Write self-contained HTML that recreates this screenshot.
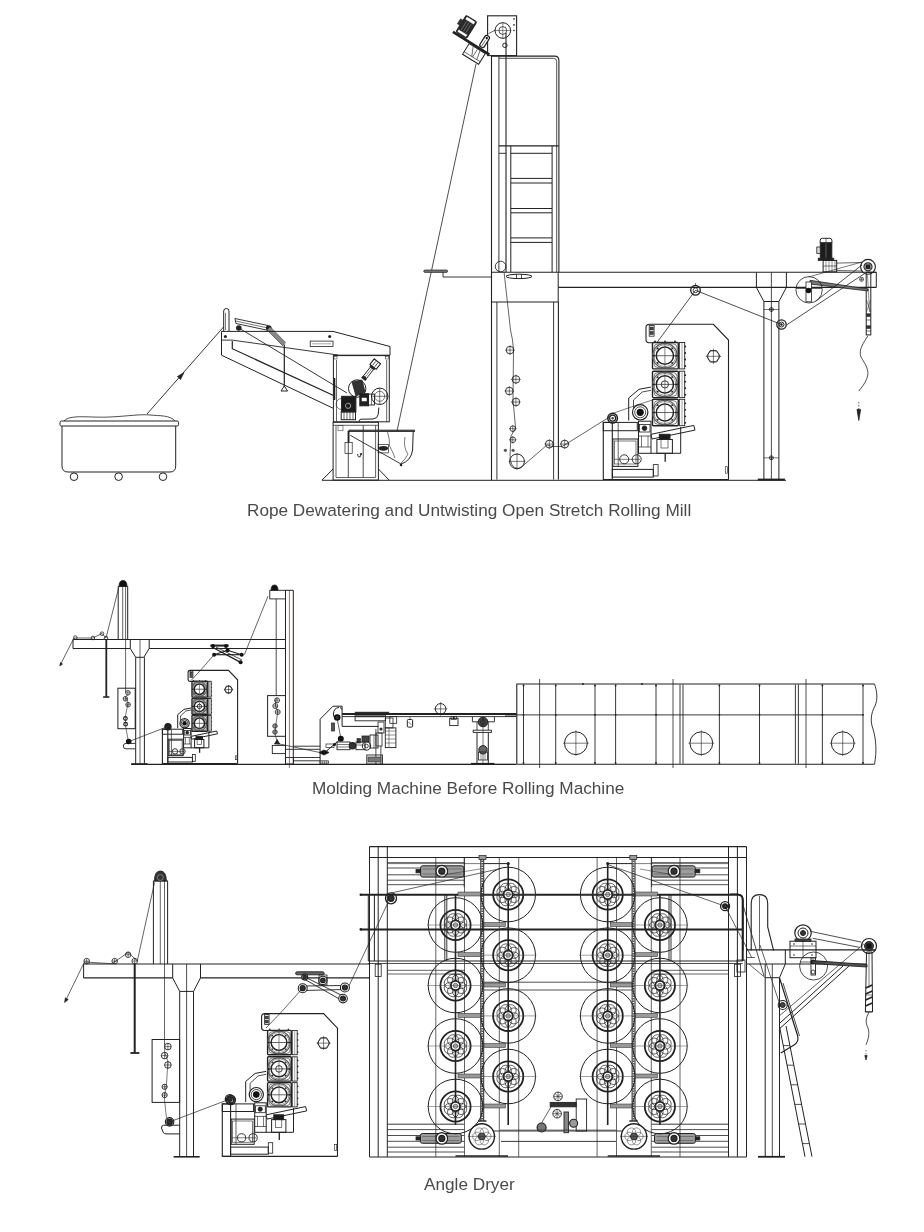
<!DOCTYPE html>
<html><head><meta charset="utf-8"><style>html,body{margin:0;padding:0;background:#fff;}svg{display:block}</style></head>
<body><svg width="924" height="1232" viewBox="0 0 924 1232" shape-rendering="auto">
<g style="will-change:transform"><text x="247" y="515.5" font-family="Liberation Sans, sans-serif" font-size="17.2" fill="#4a4a4a">Rope Dewatering and Untwisting Open Stretch Rolling Mill</text></g>
<g style="will-change:transform"><text x="311.9" y="794.4" font-family="Liberation Sans, sans-serif" font-size="17.2" fill="#4a4a4a">Molding Machine Before Rolling Machine</text></g>
<g style="will-change:transform"><text x="424" y="1190" font-family="Liberation Sans, sans-serif" font-size="17.2" fill="#4a4a4a">Angle Dryer</text></g>
<rect x="60.0" y="421.0" width="118.6" height="5.0" rx="1.5" fill="none" stroke="#222" stroke-width="1"/>
<path d="M 62.0,426.0 L 62.0,466.0 Q 62.0,472.0 68.0,472.0 L 170.0,472.0 Q 175.7,472.0 175.7,466.0 L 175.7,426.0" fill="none" stroke="#222" stroke-width="1"/>
<circle cx="74.0" cy="476.7" r="3.8" fill="none" stroke="#222" stroke-width="1"/>
<circle cx="118.6" cy="476.7" r="3.8" fill="none" stroke="#222" stroke-width="1"/>
<circle cx="163.0" cy="476.7" r="3.8" fill="none" stroke="#222" stroke-width="1"/>
<path d="M 64.0,421.0 C 70.0,414.0 90.0,418.0 110.0,417.0 C 130.0,416.0 140.0,414.0 150.0,415.0 C 160.0,416.0 170.0,415.0 175.0,421.0" fill="none" stroke="#222" stroke-width="0.8"/>
<line x1="147.0" y1="414.0" x2="223.5" y2="327.0" stroke="#222" stroke-width="0.9" />
<polygon points="184.0,372.5 180.6,379.6 177.3,376.6" fill="#222" stroke="#222" stroke-width="0.6"/>
<path d="M 223.7,331.0 L 223.7,311.0 Q 223.7,308.5 226.3,308.5 Q 229.0,308.5 229.0,311.0 L 229.0,331.0" fill="none" stroke="#222" stroke-width="1"/>
<line x1="225.5" y1="313.0" x2="225.5" y2="330.0" stroke="#222" stroke-width="0.6" />
<polygon points="234.9,318.5 268.0,325.5 268.6,330.5 236.0,323.5" fill="none" stroke="#222" stroke-width="0.9"/>
<line x1="235.5" y1="321.0" x2="268.0" y2="328.0" stroke="#222" stroke-width="0.6" />
<circle cx="238.8" cy="328.0" r="2.8" fill="#222"/>
<circle cx="268.7" cy="328.0" r="2.8" fill="#222"/>
<line x1="268.7" y1="328.5" x2="284.3" y2="344.4" stroke="#888" stroke-width="4" />
<line x1="267.5" y1="330.5" x2="283.0" y2="346.0" stroke="#222" stroke-width="0.6" />
<line x1="270.5" y1="327.0" x2="285.5" y2="342.5" stroke="#222" stroke-width="0.6" />
<line x1="284.3" y1="344.4" x2="284.3" y2="386.6" stroke="#222" stroke-width="1.2" />
<polygon points="281.0,391.0 284.3,386.0 287.6,391.0" fill="none" stroke="#222" stroke-width="1"/>
<polyline points="221.5,331.4 333.0,331.4 390.0,346.5 390.0,355.2 333.0,355.2" fill="none" stroke="#222" stroke-width="1"/>
<line x1="221.5" y1="331.4" x2="221.5" y2="355.2" stroke="#222" stroke-width="1" />
<line x1="221.5" y1="340.1" x2="232.3" y2="340.1" stroke="#222" stroke-width="0.9" />
<line x1="221.5" y1="355.2" x2="333.0" y2="408.2" stroke="#222" stroke-width="1" />
<polyline points="232.3,341.0 232.3,348.7 333.0,395.2" fill="none" stroke="#222" stroke-width="1.2"/>
<line x1="232.3" y1="340.1" x2="338.0" y2="355.0" stroke="#222" stroke-width="0.9" />
<circle cx="225.4" cy="336.4" r="1.5" fill="#222"/>
<circle cx="329.7" cy="336.4" r="1.5" fill="#222"/>
<rect x="310.2" y="341.1" width="22.8" height="5.4" rx="0" fill="none" stroke="#222" stroke-width="0.8"/>
<line x1="312.0" y1="343.8" x2="331.0" y2="343.8" stroke="#222" stroke-width="0.4" />
<line x1="238.8" y1="328.0" x2="347.0" y2="393.0" stroke="#222" stroke-width="0.9" />
<rect x="333.4" y="355.6" width="55.9" height="66.2" rx="0" fill="none" stroke="#222" stroke-width="1"/>
<line x1="336.5" y1="360.0" x2="336.5" y2="421.8" stroke="#222" stroke-width="0.7" />
<line x1="386.7" y1="360.0" x2="386.7" y2="421.8" stroke="#222" stroke-width="0.7" />
<rect x="334.0" y="356.5" width="3.0" height="2.5" rx="0" fill="none" stroke="#222" stroke-width="0.5"/>
<rect x="385.5" y="356.5" width="3.0" height="2.5" rx="0" fill="none" stroke="#222" stroke-width="0.5"/>
<line x1="334.5" y1="378.0" x2="334.5" y2="400.0" stroke="#222" stroke-width="1.6" />
<circle cx="357.2" cy="388.5" r="8.7" fill="none" stroke="#222" stroke-width="1"/>
<path d="M 352.0,382.0 L 362.0,380.0 L 365.0,392.0 L 356.0,396.0 Z" fill="#333" stroke="#222" stroke-width="0.8"/>
<rect x="341.6" y="396.3" width="14.3" height="15.6" rx="0" fill="#1a1a1a" stroke="#222" stroke-width="1"/>
<circle cx="348.1" cy="405.8" r="2.6" fill="none" stroke="#ccc" stroke-width="0.8"/>
<circle cx="341.6" cy="404.0" r="5.5" fill="none" stroke="#222" stroke-width="0.6"/>
<rect x="341.2" y="411.9" width="14.3" height="7.8" rx="0" fill="none" stroke="#222" stroke-width="1"/>
<line x1="344.0" y1="411.9" x2="344.0" y2="419.7" stroke="#222" stroke-width="0.7" />
<line x1="347.0" y1="411.9" x2="347.0" y2="419.7" stroke="#222" stroke-width="0.7" />
<line x1="350.0" y1="411.9" x2="350.0" y2="419.7" stroke="#222" stroke-width="0.7" />
<line x1="353.0" y1="411.9" x2="353.0" y2="419.7" stroke="#222" stroke-width="0.7" />
<rect x="359.8" y="393.7" width="8.7" height="12.1" rx="0" fill="#222" stroke="#222" stroke-width="1"/>
<rect x="362.0" y="398.0" width="4.5" height="3.0" rx="0" fill="#fff" stroke="#fff" stroke-width="0.5"/>
<rect x="368.5" y="394.1" width="6.0" height="10.9" rx="0" fill="none" stroke="#222" stroke-width="0.9"/>
<line x1="371.5" y1="394.1" x2="371.5" y2="405.0" stroke="#222" stroke-width="0.6" />
<circle cx="379.7" cy="396.3" r="8.2" fill="none" stroke="#222" stroke-width="1"/>
<circle cx="379.7" cy="396.3" r="5.0" fill="none" stroke="#222" stroke-width="0.6"/>
<line x1="371.0" y1="396.3" x2="388.5" y2="396.3" stroke="#222" stroke-width="0.6" />
<line x1="379.7" y1="388.0" x2="379.7" y2="404.6" stroke="#222" stroke-width="0.6" />
<g transform="translate(370.6,370) rotate(38)"><rect x="-4" y="-11" width="8" height="7" fill="#fff" stroke="#222" stroke-width="1.1"/><line x1="-1.3" y1="-10" x2="-1.3" y2="-5" stroke="#222" stroke-width="0.7"/><line x1="1.3" y1="-10" x2="1.3" y2="-5" stroke="#222" stroke-width="0.7"/><rect x="-3" y="-4" width="6" height="2" fill="#222"/><rect x="-2" y="-2" width="4" height="11" fill="#fff" stroke="#222" stroke-width="0.9"/><line x1="0" y1="-2" x2="0" y2="9" stroke="#222" stroke-width="0.5"/><rect x="-2.6" y="9" width="5.2" height="3" fill="#222"/></g>
<path d="M 378.9,407.5 L 378.2,414.5 Q 377.5,418.5 373.0,419.0 L 361.0,419.2 Q 359.0,419.3 359.0,421.8" fill="none" stroke="#222" stroke-width="1"/>
<rect x="333.1" y="422.3" width="45.3" height="57.8" rx="0" fill="none" stroke="#222" stroke-width="1"/>
<line x1="336.0" y1="425.3" x2="336.0" y2="477.5" stroke="#222" stroke-width="0.7" />
<line x1="375.6" y1="425.3" x2="375.6" y2="477.5" stroke="#222" stroke-width="0.7" />
<line x1="336.0" y1="477.5" x2="375.6" y2="477.5" stroke="#222" stroke-width="0.7" />
<line x1="348.3" y1="431.0" x2="348.3" y2="477.5" stroke="#222" stroke-width="0.8" />
<line x1="363.2" y1="425.3" x2="363.2" y2="477.5" stroke="#222" stroke-width="0.8" />
<line x1="333.1" y1="425.3" x2="378.4" y2="425.3" stroke="#222" stroke-width="0.7" />
<rect x="338.0" y="425.3" width="5.0" height="5.5" rx="0" fill="none" stroke="#222" stroke-width="0.5"/>
<polyline points="322.0,480.1 333.1,469.0" fill="none" stroke="#222" stroke-width="1"/>
<polyline points="378.4,469.0 389.2,480.1" fill="none" stroke="#222" stroke-width="1"/>
<line x1="322.0" y1="480.3" x2="786.0" y2="480.3" stroke="#222" stroke-width="1" />
<rect x="345.0" y="442.5" width="7.2" height="11.0" rx="0" fill="none" stroke="#222" stroke-width="0.7"/>
<line x1="348.6" y1="430.8" x2="348.6" y2="442.5" stroke="#222" stroke-width="1.8" />
<path d="M 357.5,454.0 Q 357.5,457.5 360.0,457.0 L 361.0,454.5" fill="none" stroke="#222" stroke-width="0.9"/>
<circle cx="361.0" cy="454.0" r="1.1" fill="#222"/>
<line x1="350.3" y1="435.3" x2="401.0" y2="464.0" stroke="#222" stroke-width="0.9" />
<rect x="378.2" y="444.4" width="10.4" height="8.5" rx="0" fill="none" stroke="#222" stroke-width="0.7"/>
<ellipse cx="383.4" cy="448.3" rx="4.6" ry="2.4" fill="#222"/>
<rect x="349.0" y="430.1" width="65.5" height="1.5" rx="0" fill="#555" stroke="#222" stroke-width="0.8"/>
<path d="M 413.2,431.6 L 412.6,450.0 Q 411.0,461.0 401.0,464.0" fill="none" stroke="#222" stroke-width="1"/>
<path d="M 387.5,432.0 Q 390.0,440.0 389.5,446.0 Q 393.0,452.0 395.0,458.0" fill="none" stroke="#222" stroke-width="0.6"/>
<path d="M 405.0,437.0 Q 403.0,447.0 408.0,454.0 Q 405.0,460.0 401.0,463.0" fill="none" stroke="#222" stroke-width="0.6"/>
<circle cx="401.0" cy="465.0" r="1.3" fill="#222"/>
<rect x="487.6" y="15.8" width="29.0" height="39.8" rx="0" fill="none" stroke="#222" stroke-width="1.1"/>
<circle cx="502.8" cy="30.5" r="7.8" fill="none" stroke="#222" stroke-width="1"/>
<circle cx="502.8" cy="30.5" r="3.9" fill="none" stroke="#222" stroke-width="0.8"/>
<line x1="494.0" y1="30.5" x2="511.5" y2="30.5" stroke="#222" stroke-width="0.5" />
<line x1="502.8" y1="22.0" x2="502.8" y2="39.0" stroke="#222" stroke-width="0.5" />
<circle cx="504.9" cy="45.3" r="2.2" fill="none" stroke="#222" stroke-width="1"/>
<circle cx="514.0" cy="18.9" r="0.8" fill="#222"/>
<circle cx="514.0" cy="24.9" r="0.8" fill="#222"/>
<circle cx="514.0" cy="30.5" r="0.8" fill="#222"/>
<line x1="506.0" y1="32.7" x2="506.0" y2="272.0" stroke="#222" stroke-width="1.1" />
<line x1="488.5" y1="33.6" x2="495.4" y2="30.1" stroke="#222" stroke-width="0.7" />
<g transform="translate(470.8,42.9) rotate(32)">
<rect x="-21" y="-1.3" width="43" height="2.8" fill="#222"/>
<rect x="-18.5" y="-21" width="12.5" height="19.5" rx="1.5" fill="#2a2a2a" stroke="#222" stroke-width="1"/>
<rect x="-17.5" y="-20.5" width="10.5" height="3.6" rx="1.2" fill="#fff" stroke="#222" stroke-width="0.6"/>
<rect x="-17.5" y="-5.2" width="10.5" height="3" fill="#fff" stroke="#222" stroke-width="0.6"/>
<line x1="-15" y1="-16" x2="-15" y2="-6" stroke="#999" stroke-width="0.5"/>
<line x1="-12.3" y1="-16" x2="-12.3" y2="-6" stroke="#999" stroke-width="0.5"/>
<line x1="-9.6" y1="-16" x2="-9.6" y2="-6" stroke="#999" stroke-width="0.5"/>
<rect x="-21.5" y="-15" width="3.2" height="6" fill="#333" stroke="#222" stroke-width="0.5"/>
<rect x="-1" y="1.5" width="19" height="12.5" fill="#fff" stroke="#222" stroke-width="1"/>
<line x1="-1" y1="11" x2="18" y2="11" stroke="#222" stroke-width="0.6"/>
<line x1="4" y1="2" x2="8" y2="11" stroke="#222" stroke-width="0.6"/>
<line x1="9" y1="2" x2="9" y2="11" stroke="#222" stroke-width="0.6"/>
<line x1="12" y1="2" x2="14" y2="11" stroke="#222" stroke-width="0.6"/>
<rect x="8.5" y="-15" width="5" height="13" rx="2" fill="#fff" stroke="#222" stroke-width="1.3"/>
<circle cx="11" cy="-12.5" r="1.2" fill="#222"/>
<line x1="11" y1="-10" x2="11" y2="-3" stroke="#222" stroke-width="0.6"/>
</g>
<line x1="476.0" y1="64.0" x2="397.0" y2="431.0" stroke="#222" stroke-width="0.8" />
<path d="M 491.5,56.1 L 491.5,480.0" fill="none" stroke="#222" stroke-width="1.1"/>
<line x1="498.9" y1="56.1" x2="498.9" y2="272.0" stroke="#222" stroke-width="0.9" />
<path d="M 491.5,56.1 L 554.5,56.1 Q 558.9,56.1 558.9,60.5 L 558.9,272.0" fill="none" stroke="#222" stroke-width="1.1"/>
<path d="M 498.9,58.3 L 553.5,58.3 Q 556.7,58.3 556.7,61.5 L 556.7,272.0" fill="none" stroke="#222" stroke-width="0.8"/>
<line x1="498.9" y1="145.9" x2="558.9" y2="145.9" stroke="#222" stroke-width="1.3" />
<line x1="510.8" y1="145.9" x2="510.8" y2="272.0" stroke="#222" stroke-width="1.0" />
<line x1="552.1" y1="145.9" x2="552.1" y2="272.0" stroke="#222" stroke-width="1.0" />
<line x1="498.9" y1="153.3" x2="506.3" y2="153.3" stroke="#222" stroke-width="0.9" />
<line x1="510.8" y1="153.3" x2="552.1" y2="153.3" stroke="#222" stroke-width="1.0" />
<line x1="510.8" y1="178.4" x2="552.1" y2="178.4" stroke="#222" stroke-width="1.0" />
<line x1="510.8" y1="183.0" x2="552.1" y2="183.0" stroke="#222" stroke-width="1.0" />
<line x1="510.8" y1="208.5" x2="552.1" y2="208.5" stroke="#222" stroke-width="1.0" />
<line x1="510.8" y1="212.8" x2="552.1" y2="212.8" stroke="#222" stroke-width="1.0" />
<line x1="510.8" y1="237.9" x2="552.1" y2="237.9" stroke="#222" stroke-width="1.0" />
<line x1="510.8" y1="242.4" x2="552.1" y2="242.4" stroke="#222" stroke-width="1.0" />
<circle cx="500.6" cy="266.5" r="5.3" fill="none" stroke="#222" stroke-width="0.9"/>
<rect x="423.8" y="270.0" width="23.8" height="2.4" rx="1.2" fill="#777" stroke="#222" stroke-width="0.7"/>
<polyline points="443.0,272.3 443.0,277.0 491.5,277.0" fill="none" stroke="#222" stroke-width="0.9"/>
<line x1="491.5" y1="272.3" x2="876.3" y2="272.3" stroke="#222" stroke-width="1.1" />
<line x1="558.2" y1="287.4" x2="876.3" y2="287.4" stroke="#222" stroke-width="1.1" />
<line x1="491.5" y1="302.0" x2="558.2" y2="302.0" stroke="#222" stroke-width="1.1" />
<line x1="558.2" y1="272.3" x2="558.2" y2="302.0" stroke="#222" stroke-width="1.0" />
<ellipse cx="519" cy="276.4" rx="13" ry="2.2" fill="none" stroke="#222" stroke-width="1"/>
<line x1="516.5" y1="274.2" x2="516.5" y2="278.6" stroke="#222" stroke-width="0.8" />
<line x1="521.5" y1="274.2" x2="521.5" y2="278.6" stroke="#222" stroke-width="0.8" />
<line x1="496.9" y1="302.0" x2="496.9" y2="479.6" stroke="#222" stroke-width="0.9" />
<line x1="553.6" y1="302.0" x2="553.6" y2="479.6" stroke="#222" stroke-width="0.9" />
<line x1="558.4" y1="302.0" x2="558.4" y2="479.6" stroke="#222" stroke-width="1.1" />
<circle cx="510.0" cy="350.1" r="3.8" fill="none" stroke="#222" stroke-width="0.9"/>
<line x1="505.2" y1="350.1" x2="514.8" y2="350.1" stroke="#222" stroke-width="0.6" />
<line x1="510.0" y1="345.3" x2="510.0" y2="354.9" stroke="#222" stroke-width="0.6" />
<circle cx="515.9" cy="379.4" r="3.8" fill="none" stroke="#222" stroke-width="0.9"/>
<line x1="511.1" y1="379.4" x2="520.7" y2="379.4" stroke="#222" stroke-width="0.6" />
<line x1="515.9" y1="374.6" x2="515.9" y2="384.2" stroke="#222" stroke-width="0.6" />
<circle cx="509.3" cy="391.0" r="3.8" fill="none" stroke="#222" stroke-width="0.9"/>
<line x1="504.5" y1="391.0" x2="514.1" y2="391.0" stroke="#222" stroke-width="0.6" />
<line x1="509.3" y1="386.2" x2="509.3" y2="395.8" stroke="#222" stroke-width="0.6" />
<circle cx="515.9" cy="402.0" r="3.8" fill="none" stroke="#222" stroke-width="0.9"/>
<line x1="511.1" y1="402.0" x2="520.7" y2="402.0" stroke="#222" stroke-width="0.6" />
<line x1="515.9" y1="397.2" x2="515.9" y2="406.8" stroke="#222" stroke-width="0.6" />
<circle cx="512.8" cy="428.7" r="2.8" fill="none" stroke="#222" stroke-width="0.8"/>
<line x1="509.0" y1="428.7" x2="516.6" y2="428.7" stroke="#222" stroke-width="0.6" />
<line x1="512.8" y1="424.9" x2="512.8" y2="432.5" stroke="#222" stroke-width="0.6" />
<circle cx="512.8" cy="439.8" r="2.8" fill="none" stroke="#222" stroke-width="0.8"/>
<line x1="509.0" y1="439.8" x2="516.6" y2="439.8" stroke="#222" stroke-width="0.6" />
<line x1="512.8" y1="436.0" x2="512.8" y2="443.6" stroke="#222" stroke-width="0.6" />
<circle cx="505.4" cy="450.3" r="1.6" fill="#555"/>
<circle cx="513.1" cy="450.3" r="1.6" fill="#555"/>
<circle cx="517.0" cy="461.4" r="7.4" fill="none" stroke="#222" stroke-width="1"/>
<line x1="508.6" y1="461.4" x2="525.4" y2="461.4" stroke="#222" stroke-width="0.6" />
<line x1="517.0" y1="453.0" x2="517.0" y2="469.8" stroke="#222" stroke-width="0.6" />
<path d="M 504.0,271.5 L 510.5,330.0 Q 513.0,340.0 513.5,350.0 L 513.0,400.0 L 515.6,428.0 L 511.0,436.0 L 510.0,455.0 Q 510.0,468.0 518.0,468.5 L 522.0,466.5 L 547.0,445.0 L 552.0,446.5 L 562.0,446.5 L 567.0,443.5 L 611.0,416.0" fill="none" stroke="#222" stroke-width="0.7"/>
<circle cx="549.3" cy="444.1" r="3.9" fill="none" stroke="#222" stroke-width="0.9"/>
<line x1="544.4" y1="444.1" x2="554.2" y2="444.1" stroke="#222" stroke-width="0.6" />
<line x1="549.3" y1="439.2" x2="549.3" y2="449.0" stroke="#222" stroke-width="0.6" />
<circle cx="564.7" cy="444.1" r="3.9" fill="none" stroke="#222" stroke-width="0.9"/>
<line x1="559.8" y1="444.1" x2="569.6" y2="444.1" stroke="#222" stroke-width="0.6" />
<line x1="564.7" y1="439.2" x2="564.7" y2="449.0" stroke="#222" stroke-width="0.6" />
<path d="M 652.8,342.7 L 649.0,342.7 Q 646.0,342.7 646.0,339.5 L 646.0,327.5 Q 646.0,324.3 649.5,324.3 L 713.4,324.3 L 728.5,340.0 L 728.5,479.7" fill="none" stroke="#222" stroke-width="1.1"/>
<rect x="649.2" y="325.4" width="4.9" height="10.8" rx="0" fill="none" stroke="#222" stroke-width="0.8"/>
<rect x="650.0" y="327.0" width="3.3" height="3.0" rx="0" fill="#444" stroke="#222" stroke-width="0.5"/>
<rect x="650.0" y="331.5" width="3.3" height="3.0" rx="0" fill="#444" stroke="#222" stroke-width="0.5"/>
<circle cx="655.0" cy="341.3" r="0.9" fill="#222"/>
<circle cx="665.0" cy="341.3" r="0.9" fill="#222"/>
<circle cx="675.0" cy="341.3" r="0.9" fill="#222"/>
<rect x="652.5" y="342.5" width="25.8" height="26.4" rx="1" fill="none" stroke="#222" stroke-width="1.4"/>
<rect x="654.0" y="343.8" width="23.0" height="23.8" rx="4" fill="none" stroke="#444" stroke-width="0.7"/>
<rect x="679.3" y="342.5" width="5.4" height="26.4" rx="0" fill="none" stroke="#222" stroke-width="0.9"/>
<line x1="682.0" y1="342.5" x2="682.0" y2="368.9" stroke="#666" stroke-width="0.6" />
<circle cx="685.2" cy="346.5" r="0.9" fill="#222"/>
<circle cx="685.2" cy="353.0" r="0.9" fill="#222"/>
<circle cx="685.2" cy="359.5" r="0.9" fill="#222"/>
<circle cx="685.2" cy="366.0" r="0.9" fill="#222"/>
<circle cx="664.9" cy="355.7" r="12.3" fill="none" stroke="#555" stroke-width="1.1"/>
<circle cx="664.9" cy="355.7" r="11.0" fill="none" stroke="#666" stroke-width="0.7"/>
<circle cx="664.9" cy="355.7" r="8.6" fill="none" stroke="#222" stroke-width="1.5"/>
<line x1="652.0" y1="355.7" x2="678.0" y2="355.7" stroke="#222" stroke-width="0.7" />
<line x1="664.9" y1="343.0" x2="664.9" y2="368.4" stroke="#555" stroke-width="0.7" />
<circle cx="672.2" cy="363.0" r="0.9" fill="#222"/>
<circle cx="657.6" cy="363.0" r="0.9" fill="#222"/>
<circle cx="657.6" cy="348.4" r="0.9" fill="#222"/>
<circle cx="672.2" cy="348.4" r="0.9" fill="#222"/>
<circle cx="653.8" cy="355.7" r="1.0" fill="#222"/>
<circle cx="676.0" cy="355.7" r="1.0" fill="#222"/>
<rect x="652.5" y="371.2" width="25.8" height="26.4" rx="1" fill="none" stroke="#222" stroke-width="1.4"/>
<rect x="654.0" y="372.5" width="23.0" height="23.8" rx="4" fill="none" stroke="#444" stroke-width="0.7"/>
<rect x="679.3" y="371.2" width="5.4" height="26.4" rx="0" fill="none" stroke="#222" stroke-width="0.9"/>
<line x1="682.0" y1="371.2" x2="682.0" y2="397.6" stroke="#666" stroke-width="0.6" />
<circle cx="685.2" cy="375.2" r="0.9" fill="#222"/>
<circle cx="685.2" cy="381.7" r="0.9" fill="#222"/>
<circle cx="685.2" cy="388.2" r="0.9" fill="#222"/>
<circle cx="685.2" cy="394.7" r="0.9" fill="#222"/>
<circle cx="664.9" cy="384.4" r="12.3" fill="none" stroke="#555" stroke-width="1.1"/>
<circle cx="664.9" cy="384.4" r="11.0" fill="none" stroke="#666" stroke-width="0.7"/>
<circle cx="664.9" cy="384.4" r="8.6" fill="none" stroke="#222" stroke-width="1.5"/>
<line x1="652.0" y1="384.4" x2="678.0" y2="384.4" stroke="#222" stroke-width="0.7" />
<line x1="664.9" y1="371.7" x2="664.9" y2="397.1" stroke="#555" stroke-width="0.7" />
<circle cx="672.2" cy="391.7" r="0.9" fill="#222"/>
<circle cx="657.6" cy="391.7" r="0.9" fill="#222"/>
<circle cx="657.6" cy="377.1" r="0.9" fill="#222"/>
<circle cx="672.2" cy="377.1" r="0.9" fill="#222"/>
<circle cx="653.8" cy="384.4" r="1.0" fill="#222"/>
<circle cx="676.0" cy="384.4" r="1.0" fill="#222"/>
<circle cx="664.9" cy="384.4" r="3.6" fill="none" stroke="#222" stroke-width="0.9"/>
<rect x="652.5" y="399.3" width="25.8" height="26.4" rx="1" fill="none" stroke="#222" stroke-width="1.4"/>
<rect x="654.0" y="400.6" width="23.0" height="23.8" rx="4" fill="none" stroke="#444" stroke-width="0.7"/>
<rect x="679.3" y="399.3" width="5.4" height="26.4" rx="0" fill="none" stroke="#222" stroke-width="0.9"/>
<line x1="682.0" y1="399.3" x2="682.0" y2="425.7" stroke="#666" stroke-width="0.6" />
<circle cx="685.2" cy="403.3" r="0.9" fill="#222"/>
<circle cx="685.2" cy="409.8" r="0.9" fill="#222"/>
<circle cx="685.2" cy="416.3" r="0.9" fill="#222"/>
<circle cx="685.2" cy="422.8" r="0.9" fill="#222"/>
<circle cx="664.9" cy="412.5" r="12.3" fill="none" stroke="#555" stroke-width="1.1"/>
<circle cx="664.9" cy="412.5" r="11.0" fill="none" stroke="#666" stroke-width="0.7"/>
<circle cx="664.9" cy="412.5" r="8.6" fill="none" stroke="#222" stroke-width="1.5"/>
<line x1="652.0" y1="412.5" x2="678.0" y2="412.5" stroke="#222" stroke-width="0.7" />
<line x1="664.9" y1="399.8" x2="664.9" y2="425.2" stroke="#555" stroke-width="0.7" />
<circle cx="672.2" cy="419.8" r="0.9" fill="#222"/>
<circle cx="657.6" cy="419.8" r="0.9" fill="#222"/>
<circle cx="657.6" cy="405.2" r="0.9" fill="#222"/>
<circle cx="672.2" cy="405.2" r="0.9" fill="#222"/>
<circle cx="653.8" cy="412.5" r="1.0" fill="#222"/>
<circle cx="676.0" cy="412.5" r="1.0" fill="#222"/>
<polygon points="720.0,356.3 716.7,362.0 710.1,362.0 706.8,356.3 710.1,350.6 716.7,350.6" fill="none" stroke="#222" stroke-width="0.9"/>
<circle cx="713.4" cy="356.3" r="5.6" fill="none" stroke="#222" stroke-width="0.6"/>
<line x1="705.8" y1="356.3" x2="721.0" y2="356.3" stroke="#222" stroke-width="0.6" />
<line x1="713.4" y1="348.7" x2="713.4" y2="363.9" stroke="#222" stroke-width="0.6" />
<polyline points="650.9,387.1 639.0,389.3 628.7,398.0 628.7,420.5" fill="none" stroke="#222" stroke-width="1"/>
<polyline points="650.9,390.3 642.2,392.0 633.5,400.0 633.5,408.0" fill="none" stroke="#222" stroke-width="0.8"/>
<circle cx="640.2" cy="412.3" r="7.7" fill="none" stroke="#222" stroke-width="1.2"/>
<circle cx="640.2" cy="412.3" r="5.5" fill="none" stroke="#222" stroke-width="0.8"/>
<circle cx="640.2" cy="412.3" r="3.6" fill="#111"/>
<rect x="638.5" y="421.2" width="12.5" height="32.1" rx="0" fill="none" stroke="#222" stroke-width="1"/>
<rect x="639.5" y="424.5" width="10.5" height="7.5" rx="0" fill="none" stroke="#222" stroke-width="0.8"/>
<circle cx="644.5" cy="428.2" r="2.3" fill="#222" stroke="#222" stroke-width="0.9"/>
<line x1="638.5" y1="436.0" x2="651.0" y2="436.0" stroke="#222" stroke-width="0.7" />
<line x1="638.5" y1="447.0" x2="651.0" y2="447.0" stroke="#222" stroke-width="0.7" />
<line x1="641.5" y1="436.0" x2="641.5" y2="447.0" stroke="#222" stroke-width="0.6" />
<line x1="648.0" y1="436.0" x2="648.0" y2="447.0" stroke="#222" stroke-width="0.6" />
<polygon points="651.0,434.3 693.8,425.4 695.0,430.1 652.0,439.0" fill="#fff" stroke="#222" stroke-width="1"/>
<rect x="659.3" y="434.3" width="10.7" height="5.2" rx="0" fill="#1a1a1a" stroke="#222" stroke-width="1"/>
<rect x="661.0" y="436.0" width="7.0" height="12.0" rx="0" fill="none" stroke="#222" stroke-width="0.6"/>
<rect x="656.9" y="439.5" width="15.5" height="13.8" rx="0" fill="none" stroke="#222" stroke-width="1"/>
<line x1="665.2" y1="453.3" x2="665.2" y2="461.7" stroke="#222" stroke-width="1.3" />
<polyline points="680.7,427.0 680.7,453.3 651.0,453.3" fill="none" stroke="#222" stroke-width="1"/>
<rect x="603.3" y="422.4" width="9.0" height="57.1" rx="0" fill="none" stroke="#222" stroke-width="1.1"/>
<rect x="603.3" y="422.4" width="34.0" height="8.3" rx="0" fill="none" stroke="#222" stroke-width="1"/>
<rect x="612.9" y="439.0" width="25.0" height="27.4" rx="0" fill="none" stroke="#222" stroke-width="1"/>
<rect x="614.5" y="441.0" width="21.5" height="23.0" rx="0" fill="none" stroke="#222" stroke-width="0.6"/>
<rect x="612.3" y="469.4" width="41.0" height="7.7" rx="0" fill="none" stroke="#222" stroke-width="1"/>
<line x1="618.2" y1="422.4" x2="618.2" y2="466.0" stroke="#222" stroke-width="0.7" />
<circle cx="624.2" cy="459.3" r="4.5" fill="none" stroke="#222" stroke-width="0.9"/>
<circle cx="636.7" cy="459.3" r="4.5" fill="none" stroke="#222" stroke-width="0.9"/>
<line x1="614.0" y1="459.3" x2="640.0" y2="459.3" stroke="#222" stroke-width="0.6" />
<rect x="653.3" y="464.6" width="4.8" height="11.4" rx="0" fill="none" stroke="#222" stroke-width="0.8"/>
<circle cx="612.6" cy="418.2" r="4.8" fill="none" stroke="#222" stroke-width="1.6"/>
<circle cx="612.6" cy="418.2" r="3.0" fill="none" stroke="#222" stroke-width="1.2"/>
<circle cx="612.6" cy="418.2" r="1.2" fill="#444"/>
<line x1="603.3" y1="479.5" x2="728.5" y2="479.5" stroke="#222" stroke-width="1.1" />
<rect x="725.3" y="466.7" width="2.3" height="6.5" rx="0" fill="none" stroke="#222" stroke-width="0.6"/>
<polyline points="612.6,413.4 637.0,405.0 652.5,400.0" fill="none" stroke="#222" stroke-width="0.6"/>
<line x1="656.6" y1="343.0" x2="695.5" y2="290.3" stroke="#222" stroke-width="0.8" />
<circle cx="695.5" cy="290.3" r="4.8" fill="none" stroke="#222" stroke-width="1.3"/>
<circle cx="695.5" cy="290.3" r="2.4" fill="none" stroke="#222" stroke-width="0.8"/>
<line x1="695.5" y1="283.0" x2="695.5" y2="286.0" stroke="#222" stroke-width="0.6" />
<line x1="695.5" y1="290.3" x2="781.5" y2="324.5" stroke="#222" stroke-width="0.8" />
<polyline points="756.4,272.3 756.4,287.4 763.9,301.5 778.9,301.5 786.4,287.4 786.4,272.3" fill="none" stroke="#222" stroke-width="1"/>
<line x1="763.9" y1="301.5" x2="763.9" y2="479.6" stroke="#222" stroke-width="1" />
<line x1="771.4" y1="272.3" x2="771.4" y2="479.6" stroke="#222" stroke-width="0.8" />
<line x1="778.9" y1="301.5" x2="778.9" y2="479.6" stroke="#222" stroke-width="1" />
<line x1="757.8" y1="479.6" x2="784.9" y2="479.6" stroke="#222" stroke-width="2" />
<circle cx="771.4" cy="309.5" r="2.0" fill="none" stroke="#222" stroke-width="0.8"/>
<line x1="769.4" y1="309.5" x2="773.4" y2="309.5" stroke="#222" stroke-width="0.6" />
<line x1="771.4" y1="307.5" x2="771.4" y2="311.5" stroke="#222" stroke-width="0.6" />
<line x1="763.9" y1="309.5" x2="778.9" y2="309.5" stroke="#222" stroke-width="0.6" />
<circle cx="771.4" cy="457.8" r="2.0" fill="none" stroke="#222" stroke-width="0.8"/>
<line x1="769.4" y1="457.8" x2="773.4" y2="457.8" stroke="#222" stroke-width="0.6" />
<line x1="771.4" y1="455.8" x2="771.4" y2="459.8" stroke="#222" stroke-width="0.6" />
<line x1="763.9" y1="457.8" x2="778.9" y2="457.8" stroke="#222" stroke-width="0.6" />
<circle cx="781.5" cy="324.5" r="4.7" fill="none" stroke="#222" stroke-width="1.3"/>
<circle cx="781.5" cy="324.5" r="2.5" fill="none" stroke="#222" stroke-width="1"/>
<circle cx="781.5" cy="324.5" r="1.2" fill="#222"/>
<line x1="876.3" y1="272.3" x2="876.3" y2="287.4" stroke="#222" stroke-width="1" />
<rect x="820.2" y="242.5" width="11.7" height="15.9" rx="0" fill="#1c1c1c" stroke="#222" stroke-width="0.8"/>
<line x1="826.0" y1="243.0" x2="826.0" y2="258.0" stroke="#888" stroke-width="0.6" />
<path d="M 820.2,242.7 L 820.2,240.3 Q 820.2,238.3 822.5,238.3 L 829.6,238.3 Q 831.9,238.3 831.9,240.3 L 831.9,242.7 Z" fill="#fff" stroke="#222" stroke-width="1"/>
<line x1="826.0" y1="238.5" x2="826.0" y2="242.7" stroke="#222" stroke-width="0.6" />
<rect x="816.8" y="247.0" width="3.4" height="6.4" rx="0" fill="#ddd" stroke="#222" stroke-width="0.8"/>
<rect x="818.2" y="258.2" width="15.6" height="2.2" rx="0" fill="#222" stroke="#222" stroke-width="0.8"/>
<rect x="823.1" y="260.4" width="13.6" height="11.4" rx="0" fill="none" stroke="#222" stroke-width="1"/>
<line x1="826.0" y1="261.0" x2="826.0" y2="271.0" stroke="#222" stroke-width="0.5" />
<line x1="829.0" y1="261.0" x2="829.0" y2="271.0" stroke="#222" stroke-width="0.5" />
<line x1="832.0" y1="261.0" x2="832.0" y2="271.0" stroke="#222" stroke-width="0.5" />
<line x1="835.0" y1="261.0" x2="835.0" y2="271.0" stroke="#222" stroke-width="0.5" />
<line x1="823.1" y1="266.0" x2="836.7" y2="266.0" stroke="#222" stroke-width="0.6" />
<circle cx="868.0" cy="266.8" r="7.4" fill="none" stroke="#222" stroke-width="1.1"/>
<circle cx="868.0" cy="266.8" r="4.0" fill="none" stroke="#222" stroke-width="1.2"/>
<rect x="865.8" y="264.6" width="4.4" height="4.4" rx="0" fill="#222" stroke="#222" stroke-width="0.5"/>
<line x1="836.7" y1="263.1" x2="862.0" y2="262.5" stroke="#222" stroke-width="0.7" />
<line x1="836.7" y1="270.5" x2="862.0" y2="271.0" stroke="#222" stroke-width="0.7" />
<rect x="866.2" y="272.3" width="4.6" height="62.6" rx="0" fill="none" stroke="#222" stroke-width="1"/>
<line x1="866.2" y1="272.3" x2="876.3" y2="272.3" stroke="#222" stroke-width="1" />
<rect x="866.5" y="313.8" width="4.0" height="2.7" rx="0" fill="#333" stroke="#222" stroke-width="0.6"/>
<rect x="866.5" y="325.8" width="4.0" height="2.7" rx="0" fill="#333" stroke="#222" stroke-width="0.6"/>
<line x1="866.2" y1="320.0" x2="870.8" y2="320.0" stroke="#222" stroke-width="0.6" />
<line x1="866.2" y1="331.0" x2="870.8" y2="331.0" stroke="#222" stroke-width="0.6" />
<line x1="866.5" y1="300.0" x2="870.5" y2="312.0" stroke="#222" stroke-width="0.5" />
<line x1="866.5" y1="312.0" x2="870.5" y2="300.0" stroke="#222" stroke-width="0.5" />
<line x1="867.5" y1="275.0" x2="869.5" y2="312.0" stroke="#222" stroke-width="0.5" />
<polygon points="810.0,280.3 868.0,289.0 868.0,291.0 810.0,284.0" fill="#777" stroke="#222" stroke-width="0.8"/>
<circle cx="809.1" cy="289.8" r="13.2" fill="none" stroke="#222" stroke-width="0.8"/>
<rect x="806.0" y="282.0" width="5.5" height="19.8" rx="0" fill="#fff" stroke="#222" stroke-width="0.8"/>
<circle cx="808.5" cy="290.5" r="2.8" fill="#111"/>
<line x1="796.0" y1="288.5" x2="822.0" y2="288.5" stroke="#222" stroke-width="0.7" />
<circle cx="861.6" cy="279.3" r="2.0" fill="none" stroke="#222" stroke-width="0.7"/>
<line x1="859.6" y1="279.3" x2="863.6" y2="279.3" stroke="#222" stroke-width="0.6" />
<line x1="861.6" y1="277.3" x2="861.6" y2="281.3" stroke="#222" stroke-width="0.6" />
<line x1="864.2" y1="273.8" x2="786.2" y2="325.2" stroke="#222" stroke-width="0.8" />
<line x1="815.5" y1="301.4" x2="862.0" y2="265.0" stroke="#222" stroke-width="0.8" />
<line x1="808.4" y1="277.0" x2="862.0" y2="262.0" stroke="#222" stroke-width="0.6" />
<path d="M 868.0,335.8 C 864.0,342.0 858.0,350.0 861.0,357.0 C 865.0,364.0 870.0,370.0 867.0,378.0 C 865.0,384.0 861.0,388.0 858.8,391.0" fill="none" stroke="#222" stroke-width="0.8"/>
<line x1="858.8" y1="402.0" x2="858.8" y2="409.4" stroke="#222" stroke-width="0.7" stroke-dasharray="1.5,1.5"/>
<polygon points="857.0,409.4 860.6,409.4 858.8,420.4" fill="#222" stroke="#222" stroke-width="0.8"/>
<line x1="73.0" y1="639.5" x2="285.5" y2="639.5" stroke="#222" stroke-width="1.1" />
<line x1="73.0" y1="648.5" x2="130.3" y2="648.5" stroke="#222" stroke-width="1.1" />
<line x1="149.2" y1="648.5" x2="285.5" y2="648.5" stroke="#222" stroke-width="1.1" />
<line x1="73.0" y1="639.5" x2="73.0" y2="648.5" stroke="#222" stroke-width="1" />
<line x1="118.2" y1="586.4" x2="118.2" y2="639.5" stroke="#222" stroke-width="1" />
<line x1="122.7" y1="586.4" x2="122.7" y2="639.5" stroke="#222" stroke-width="0.7" />
<line x1="127.7" y1="586.4" x2="127.7" y2="639.5" stroke="#222" stroke-width="1" />
<line x1="118.2" y1="586.4" x2="127.7" y2="586.4" stroke="#222" stroke-width="1" />
<path d="M 119.0,586.4 Q 119.0,580.5 123.0,580.5 Q 127.0,580.5 127.0,586.4 Z" fill="#111" stroke="#222" stroke-width="0.8"/>
<polyline points="130.3,639.5 130.3,648.5 135.7,657.3 143.8,657.3 149.2,648.5 149.2,639.5" fill="none" stroke="#222" stroke-width="1"/>
<line x1="135.7" y1="657.3" x2="135.7" y2="763.9" stroke="#222" stroke-width="1" />
<line x1="140.0" y1="639.5" x2="140.0" y2="763.9" stroke="#222" stroke-width="0.7" />
<line x1="144.4" y1="657.3" x2="144.4" y2="763.9" stroke="#222" stroke-width="1" />
<line x1="131.4" y1="764.0" x2="147.6" y2="764.0" stroke="#222" stroke-width="1.6" />
<line x1="106.3" y1="639.5" x2="106.3" y2="696.8" stroke="#222" stroke-width="1.8" />
<line x1="103.2" y1="697.0" x2="109.4" y2="697.0" stroke="#222" stroke-width="1.6" />
<polyline points="60.4,664.6 74.0,638.0 92.9,638.0 102.0,633.4 106.0,638.0 118.8,587.3" fill="none" stroke="#222" stroke-width="0.7"/>
<polygon points="59.8,666.0 60.4,662.6 62.6,664.0" fill="#222" stroke="#222" stroke-width="0.6"/>
<circle cx="75.3" cy="637.6" r="1.8" fill="none" stroke="#222" stroke-width="0.8"/>
<circle cx="92.9" cy="638.0" r="1.8" fill="none" stroke="#222" stroke-width="0.8"/>
<circle cx="102.0" cy="633.7" r="1.8" fill="none" stroke="#222" stroke-width="0.8"/>
<circle cx="106.0" cy="638.0" r="1.8" fill="none" stroke="#222" stroke-width="0.8"/>
<line x1="125.6" y1="586.0" x2="125.6" y2="692.0" stroke="#222" stroke-width="0.7" />
<rect x="117.9" y="688.2" width="17.3" height="40.5" rx="0" fill="none" stroke="#222" stroke-width="1"/>
<circle cx="127.9" cy="692.8" r="2.3" fill="none" stroke="#222" stroke-width="0.8"/>
<line x1="125.6" y1="692.8" x2="130.2" y2="692.8" stroke="#222" stroke-width="0.6" />
<line x1="127.9" y1="690.5" x2="127.9" y2="695.1" stroke="#222" stroke-width="0.6" />
<circle cx="125.4" cy="698.8" r="2.3" fill="none" stroke="#222" stroke-width="0.8"/>
<line x1="123.1" y1="698.8" x2="127.7" y2="698.8" stroke="#222" stroke-width="0.6" />
<line x1="125.4" y1="696.5" x2="125.4" y2="701.1" stroke="#222" stroke-width="0.6" />
<circle cx="128.1" cy="704.7" r="2.3" fill="none" stroke="#222" stroke-width="0.8"/>
<line x1="125.8" y1="704.7" x2="130.4" y2="704.7" stroke="#222" stroke-width="0.6" />
<line x1="128.1" y1="702.4" x2="128.1" y2="707.0" stroke="#222" stroke-width="0.6" />
<circle cx="125.4" cy="718.5" r="1.8" fill="none" stroke="#222" stroke-width="1.2"/>
<circle cx="125.6" cy="724.2" r="1.8" fill="none" stroke="#222" stroke-width="1.2"/>
<polyline points="127.9,695.0 125.4,696.5 128.1,702.5 125.4,716.5 125.6,726.0 128.1,740.0" fill="none" stroke="#222" stroke-width="0.6"/>
<path d="M 135.2,743.4 L 126.0,743.4 Q 123.3,743.4 123.3,746.0 Q 123.3,748.8 126.0,748.8 L 135.2,748.8" fill="none" stroke="#222" stroke-width="0.9"/>
<circle cx="128.7" cy="741.5" r="2.8" fill="#111"/>
<circle cx="167.6" cy="726.6" r="2.8" fill="#111"/>
<line x1="128.7" y1="741.7" x2="167.6" y2="726.6" stroke="#222" stroke-width="0.7" />
<path d="M 192.1,681.4 L 189.9,681.4 Q 188.1,681.4 188.1,679.5 L 188.1,672.3 Q 188.1,670.4 190.2,670.4 L 228.5,670.4 L 237.6,679.8 L 237.6,763.6" fill="none" stroke="#222" stroke-width="1.1"/>
<rect x="190.0" y="671.0" width="2.9" height="6.5" rx="0.0" fill="none" stroke="#222" stroke-width="0.8"/>
<rect x="190.5" y="672.0" width="2.0" height="1.8" rx="0.0" fill="#444" stroke="#222" stroke-width="0.5"/>
<rect x="190.5" y="674.7" width="2.0" height="1.8" rx="0.0" fill="#444" stroke="#222" stroke-width="0.5"/>
<circle cx="193.5" cy="680.6" r="0.5" fill="#222"/>
<circle cx="199.5" cy="680.6" r="0.5" fill="#222"/>
<circle cx="205.5" cy="680.6" r="0.5" fill="#222"/>
<rect x="192.0" y="681.3" width="15.5" height="15.8" rx="0.6" fill="none" stroke="#222" stroke-width="1.4"/>
<rect x="192.9" y="682.1" width="13.8" height="14.3" rx="2.4" fill="none" stroke="#444" stroke-width="0.7"/>
<rect x="208.0" y="681.3" width="3.2" height="15.8" rx="0.0" fill="none" stroke="#222" stroke-width="0.9"/>
<line x1="209.7" y1="681.3" x2="209.7" y2="697.1" stroke="#666" stroke-width="0.6" />
<circle cx="211.6" cy="683.7" r="0.5" fill="#222"/>
<circle cx="211.6" cy="687.6" r="0.5" fill="#222"/>
<circle cx="211.6" cy="691.5" r="0.5" fill="#222"/>
<circle cx="211.6" cy="695.4" r="0.5" fill="#222"/>
<circle cx="199.4" cy="689.2" r="7.4" fill="none" stroke="#555" stroke-width="1.1"/>
<circle cx="199.4" cy="689.2" r="6.6" fill="none" stroke="#666" stroke-width="0.7"/>
<circle cx="199.4" cy="689.2" r="5.2" fill="none" stroke="#222" stroke-width="1.5"/>
<line x1="191.7" y1="689.2" x2="207.3" y2="689.2" stroke="#222" stroke-width="0.7" />
<line x1="199.4" y1="681.6" x2="199.4" y2="696.8" stroke="#555" stroke-width="0.7" />
<circle cx="203.8" cy="693.6" r="0.5" fill="#222"/>
<circle cx="195.0" cy="693.6" r="0.5" fill="#222"/>
<circle cx="195.0" cy="684.8" r="0.5" fill="#222"/>
<circle cx="203.8" cy="684.8" r="0.5" fill="#222"/>
<circle cx="192.7" cy="689.2" r="0.6" fill="#222"/>
<circle cx="206.1" cy="689.2" r="0.6" fill="#222"/>
<rect x="192.0" y="698.5" width="15.5" height="15.8" rx="0.6" fill="none" stroke="#222" stroke-width="1.4"/>
<rect x="192.9" y="699.3" width="13.8" height="14.3" rx="2.4" fill="none" stroke="#444" stroke-width="0.7"/>
<rect x="208.0" y="698.5" width="3.2" height="15.8" rx="0.0" fill="none" stroke="#222" stroke-width="0.9"/>
<line x1="209.7" y1="698.5" x2="209.7" y2="714.3" stroke="#666" stroke-width="0.6" />
<circle cx="211.6" cy="700.9" r="0.5" fill="#222"/>
<circle cx="211.6" cy="704.8" r="0.5" fill="#222"/>
<circle cx="211.6" cy="708.7" r="0.5" fill="#222"/>
<circle cx="211.6" cy="712.6" r="0.5" fill="#222"/>
<circle cx="199.4" cy="706.4" r="7.4" fill="none" stroke="#555" stroke-width="1.1"/>
<circle cx="199.4" cy="706.4" r="6.6" fill="none" stroke="#666" stroke-width="0.7"/>
<circle cx="199.4" cy="706.4" r="5.2" fill="none" stroke="#222" stroke-width="1.5"/>
<line x1="191.7" y1="706.4" x2="207.3" y2="706.4" stroke="#222" stroke-width="0.7" />
<line x1="199.4" y1="698.8" x2="199.4" y2="714.0" stroke="#555" stroke-width="0.7" />
<circle cx="203.8" cy="710.8" r="0.5" fill="#222"/>
<circle cx="195.0" cy="710.8" r="0.5" fill="#222"/>
<circle cx="195.0" cy="702.1" r="0.5" fill="#222"/>
<circle cx="203.8" cy="702.1" r="0.5" fill="#222"/>
<circle cx="192.7" cy="706.4" r="0.6" fill="#222"/>
<circle cx="206.1" cy="706.4" r="0.6" fill="#222"/>
<circle cx="199.4" cy="706.4" r="2.2" fill="none" stroke="#222" stroke-width="0.9"/>
<rect x="192.0" y="715.4" width="15.5" height="15.8" rx="0.6" fill="none" stroke="#222" stroke-width="1.4"/>
<rect x="192.9" y="716.1" width="13.8" height="14.3" rx="2.4" fill="none" stroke="#444" stroke-width="0.7"/>
<rect x="208.0" y="715.4" width="3.2" height="15.8" rx="0.0" fill="none" stroke="#222" stroke-width="0.9"/>
<line x1="209.7" y1="715.4" x2="209.7" y2="731.2" stroke="#666" stroke-width="0.6" />
<circle cx="211.6" cy="717.8" r="0.5" fill="#222"/>
<circle cx="211.6" cy="721.7" r="0.5" fill="#222"/>
<circle cx="211.6" cy="725.6" r="0.5" fill="#222"/>
<circle cx="211.6" cy="729.5" r="0.5" fill="#222"/>
<circle cx="199.4" cy="723.3" r="7.4" fill="none" stroke="#555" stroke-width="1.1"/>
<circle cx="199.4" cy="723.3" r="6.6" fill="none" stroke="#666" stroke-width="0.7"/>
<circle cx="199.4" cy="723.3" r="5.2" fill="none" stroke="#222" stroke-width="1.5"/>
<line x1="191.7" y1="723.3" x2="207.3" y2="723.3" stroke="#222" stroke-width="0.7" />
<line x1="199.4" y1="715.7" x2="199.4" y2="730.9" stroke="#555" stroke-width="0.7" />
<circle cx="203.8" cy="727.6" r="0.5" fill="#222"/>
<circle cx="195.0" cy="727.6" r="0.5" fill="#222"/>
<circle cx="195.0" cy="718.9" r="0.5" fill="#222"/>
<circle cx="203.8" cy="718.9" r="0.5" fill="#222"/>
<circle cx="192.7" cy="723.3" r="0.6" fill="#222"/>
<circle cx="206.1" cy="723.3" r="0.6" fill="#222"/>
<polygon points="232.5,689.6 230.5,693.0 226.5,693.0 224.5,689.6 226.5,686.1 230.5,686.1" fill="none" stroke="#222" stroke-width="0.9"/>
<circle cx="228.5" cy="689.6" r="3.4" fill="none" stroke="#222" stroke-width="0.6"/>
<line x1="223.9" y1="689.6" x2="233.1" y2="689.6" stroke="#222" stroke-width="0.6" />
<line x1="228.5" y1="685.0" x2="228.5" y2="694.1" stroke="#222" stroke-width="0.6" />
<polyline points="191.0,708.0 183.9,709.4 177.7,714.6 177.7,728.1" fill="none" stroke="#222" stroke-width="1"/>
<polyline points="191.0,710.0 185.8,711.0 180.6,715.8 180.6,720.6" fill="none" stroke="#222" stroke-width="0.8"/>
<circle cx="184.6" cy="723.2" r="4.6" fill="none" stroke="#222" stroke-width="1.2"/>
<circle cx="184.6" cy="723.2" r="3.3" fill="none" stroke="#222" stroke-width="0.8"/>
<circle cx="184.6" cy="723.2" r="2.2" fill="#111"/>
<rect x="183.6" y="728.5" width="7.5" height="19.3" rx="0.0" fill="none" stroke="#222" stroke-width="1"/>
<rect x="184.2" y="730.5" width="6.3" height="4.5" rx="0.0" fill="none" stroke="#222" stroke-width="0.8"/>
<circle cx="187.2" cy="732.7" r="1.4" fill="#222" stroke="#222" stroke-width="0.9"/>
<line x1="183.6" y1="737.4" x2="191.1" y2="737.4" stroke="#222" stroke-width="0.7" />
<line x1="183.6" y1="744.0" x2="191.1" y2="744.0" stroke="#222" stroke-width="0.7" />
<line x1="185.4" y1="737.4" x2="185.4" y2="744.0" stroke="#222" stroke-width="0.6" />
<line x1="189.3" y1="737.4" x2="189.3" y2="744.0" stroke="#222" stroke-width="0.6" />
<polygon points="191.1,736.4 216.7,731.0 217.5,733.8 191.7,739.2" fill="#fff" stroke="#222" stroke-width="1"/>
<rect x="196.0" y="736.4" width="6.4" height="3.1" rx="0.0" fill="#1a1a1a" stroke="#222" stroke-width="1"/>
<rect x="197.1" y="737.4" width="4.2" height="7.2" rx="0.0" fill="none" stroke="#222" stroke-width="0.6"/>
<rect x="194.6" y="739.5" width="9.3" height="8.3" rx="0.0" fill="none" stroke="#222" stroke-width="1"/>
<line x1="199.6" y1="747.8" x2="199.6" y2="752.8" stroke="#222" stroke-width="1.3" />
<polyline points="208.9,732.0 208.9,747.8 191.1,747.8" fill="none" stroke="#222" stroke-width="1"/>
<rect x="162.4" y="729.2" width="5.4" height="34.3" rx="0.0" fill="none" stroke="#222" stroke-width="1.1"/>
<rect x="162.4" y="729.2" width="20.4" height="5.0" rx="0.0" fill="none" stroke="#222" stroke-width="1"/>
<rect x="168.2" y="739.2" width="15.0" height="16.4" rx="0.0" fill="none" stroke="#222" stroke-width="1"/>
<rect x="169.2" y="740.4" width="12.9" height="13.8" rx="0.0" fill="none" stroke="#222" stroke-width="0.6"/>
<rect x="167.8" y="757.4" width="24.6" height="4.6" rx="0.0" fill="none" stroke="#222" stroke-width="1"/>
<line x1="171.4" y1="729.2" x2="171.4" y2="755.4" stroke="#222" stroke-width="0.7" />
<circle cx="175.0" cy="751.4" r="2.7" fill="none" stroke="#222" stroke-width="0.9"/>
<circle cx="182.5" cy="751.4" r="2.7" fill="none" stroke="#222" stroke-width="0.9"/>
<line x1="168.9" y1="751.4" x2="184.5" y2="751.4" stroke="#222" stroke-width="0.6" />
<rect x="192.4" y="754.5" width="2.9" height="6.8" rx="0.0" fill="none" stroke="#222" stroke-width="0.8"/>
<circle cx="168.0" cy="726.7" r="2.9" fill="none" stroke="#222" stroke-width="1.6"/>
<circle cx="168.0" cy="726.7" r="1.8" fill="none" stroke="#222" stroke-width="1.2"/>
<circle cx="168.0" cy="726.7" r="0.7" fill="#444"/>
<line x1="162.4" y1="763.5" x2="237.6" y2="763.5" stroke="#222" stroke-width="1.1" />
<rect x="235.6" y="755.8" width="1.4" height="3.9" rx="0.0" fill="none" stroke="#222" stroke-width="0.6"/>
<line x1="210.3" y1="645.6" x2="228.7" y2="645.6" stroke="#222" stroke-width="2" />
<polyline points="214.1,654.7 227.6,650.3 241.7,654.7" fill="none" stroke="#222" stroke-width="1.2"/>
<polyline points="214.1,654.7 241.7,654.7" fill="none" stroke="#222" stroke-width="1.2"/>
<polyline points="212.0,647.0 240.6,662.3" fill="none" stroke="#222" stroke-width="1.4"/>
<polyline points="216.0,647.0 242.0,660.0" fill="none" stroke="#222" stroke-width="0.8"/>
<circle cx="214.1" cy="654.7" r="2.0" fill="#111"/>
<circle cx="227.6" cy="650.3" r="2.0" fill="#111"/>
<circle cx="241.7" cy="654.7" r="2.0" fill="#111"/>
<circle cx="240.6" cy="662.3" r="2.0" fill="#111"/>
<circle cx="213.0" cy="646.0" r="2.0" fill="#111"/>
<circle cx="226.0" cy="646.0" r="2.0" fill="#111"/>
<line x1="214.1" y1="654.7" x2="200.0" y2="670.9" stroke="#222" stroke-width="0.7" />
<line x1="200.0" y1="670.9" x2="191.5" y2="680.0" stroke="#222" stroke-width="0.7" />
<line x1="244.4" y1="654.7" x2="268.0" y2="596.2" stroke="#222" stroke-width="0.7" />
<line x1="276.2" y1="598.9" x2="276.2" y2="695.8" stroke="#222" stroke-width="0.8" />
<line x1="285.5" y1="590.3" x2="285.5" y2="764.0" stroke="#222" stroke-width="1" />
<line x1="293.3" y1="590.3" x2="293.3" y2="764.0" stroke="#222" stroke-width="1" />
<line x1="289.4" y1="590.3" x2="289.4" y2="768.0" stroke="#8a7a74" stroke-width="1.0" />
<rect x="269.8" y="590.3" width="15.7" height="8.6" rx="0" fill="none" stroke="#222" stroke-width="0.9"/>
<line x1="285.5" y1="590.3" x2="293.3" y2="590.3" stroke="#222" stroke-width="1" />
<path d="M 271.0,590.3 Q 271.0,585.0 274.5,585.0 Q 278.0,585.0 278.0,590.3 Z" fill="#111" stroke="#222" stroke-width="0.8"/>
<rect x="267.6" y="695.6" width="17.9" height="40.7" rx="0" fill="none" stroke="#222" stroke-width="1"/>
<circle cx="277.1" cy="700.3" r="2.5" fill="none" stroke="#222" stroke-width="0.8"/>
<line x1="274.6" y1="700.3" x2="279.6" y2="700.3" stroke="#222" stroke-width="0.6" />
<line x1="277.1" y1="697.8" x2="277.1" y2="702.8" stroke="#222" stroke-width="0.6" />
<circle cx="275.3" cy="706.0" r="2.5" fill="none" stroke="#222" stroke-width="0.8"/>
<line x1="272.8" y1="706.0" x2="277.8" y2="706.0" stroke="#222" stroke-width="0.6" />
<line x1="275.3" y1="703.5" x2="275.3" y2="708.5" stroke="#222" stroke-width="0.6" />
<circle cx="277.7" cy="712.0" r="2.5" fill="none" stroke="#222" stroke-width="0.8"/>
<line x1="275.2" y1="712.0" x2="280.2" y2="712.0" stroke="#222" stroke-width="0.6" />
<line x1="277.7" y1="709.5" x2="277.7" y2="714.5" stroke="#222" stroke-width="0.6" />
<circle cx="275.0" cy="726.0" r="2.2" fill="none" stroke="#222" stroke-width="0.9"/>
<line x1="272.8" y1="726.0" x2="277.2" y2="726.0" stroke="#222" stroke-width="0.6" />
<line x1="275.0" y1="723.8" x2="275.0" y2="728.2" stroke="#222" stroke-width="0.6" />
<circle cx="275.0" cy="732.0" r="2.2" fill="none" stroke="#222" stroke-width="0.9"/>
<line x1="272.8" y1="732.0" x2="277.2" y2="732.0" stroke="#222" stroke-width="0.6" />
<line x1="275.0" y1="729.8" x2="275.0" y2="734.2" stroke="#222" stroke-width="0.6" />
<polyline points="276.2,698.0 275.3,704.0 277.7,712.0 276.0,724.0 275.0,734.0 277.0,741.0" fill="none" stroke="#222" stroke-width="0.6"/>
<polygon points="274.5,744.0 277.1,739.5 279.7,744.0" fill="#222" stroke="#222" stroke-width="0.8"/>
<rect x="272.3" y="745.4" width="13.2" height="8.2" rx="0" fill="none" stroke="#222" stroke-width="0.9"/>
<line x1="293.4" y1="746.2" x2="320.1" y2="746.2" stroke="#222" stroke-width="0.9" />
<line x1="285.5" y1="749.3" x2="320.1" y2="749.3" stroke="#222" stroke-width="0.9" />
<line x1="293.4" y1="757.5" x2="320.1" y2="757.5" stroke="#222" stroke-width="0.9" />
<line x1="293.4" y1="760.8" x2="320.1" y2="760.8" stroke="#222" stroke-width="0.9" />
<line x1="277.1" y1="743.5" x2="324.0" y2="753.4" stroke="#222" stroke-width="0.7" />
<line x1="324.0" y1="753.4" x2="340.8" y2="738.7" stroke="#222" stroke-width="0.7" />
<rect x="285.6" y="757.5" width="7.8" height="6.5" rx="0" fill="none" stroke="#222" stroke-width="0.9"/>
<line x1="131.0" y1="764.4" x2="516.0" y2="764.4" stroke="#222" stroke-width="1.1" />
<polyline points="320.1,764.0 320.1,719.2 333.0,706.2 342.1,706.2 342.1,726.4 378.5,726.4" fill="none" stroke="#222" stroke-width="1"/>
<path d="M 339.0,707.5 Q 333.5,708.0 333.5,714.0 Q 333.5,719.0 337.0,718.0" fill="none" stroke="#222" stroke-width="1"/>
<line x1="340.5" y1="707.0" x2="341.5" y2="709.5" stroke="#222" stroke-width="1" />
<circle cx="337.2" cy="717.5" r="3.3" fill="#111"/>
<circle cx="337.2" cy="717.5" r="1.0" fill="none" stroke="#888" stroke-width="0.4"/>
<rect x="331.5" y="723.0" width="3.0" height="8.0" rx="0" fill="#555" stroke="#222" stroke-width="0.7"/>
<line x1="337.5" y1="720.5" x2="340.8" y2="738.0" stroke="#222" stroke-width="0.7" />
<circle cx="340.8" cy="738.7" r="3.0" fill="#111"/>
<polygon points="319.0,752.5 324.0,750.0 329.0,752.5 324.0,755.0" fill="#111" stroke="#222" stroke-width="0.8"/>
<line x1="324.0" y1="753.0" x2="340.8" y2="738.7" stroke="#222" stroke-width="0.7" />
<rect x="337.0" y="742.0" width="13.0" height="7.7" rx="0" fill="none" stroke="#222" stroke-width="0.9"/>
<line x1="337.0" y1="744.5" x2="350.0" y2="744.5" stroke="#222" stroke-width="0.6" />
<line x1="337.0" y1="747.0" x2="350.0" y2="747.0" stroke="#222" stroke-width="0.6" />
<rect x="356.0" y="742.0" width="9.0" height="7.7" rx="0" fill="none" stroke="#222" stroke-width="0.9"/>
<line x1="356.0" y1="745.0" x2="365.0" y2="745.0" stroke="#222" stroke-width="0.6" />
<circle cx="352.5" cy="745.8" r="3.2" fill="#333" stroke="#222" stroke-width="1.2"/>
<circle cx="366.5" cy="746.0" r="4.2" fill="none" stroke="#222" stroke-width="1"/>
<circle cx="366.5" cy="746.0" r="1.8" fill="none" stroke="#222" stroke-width="0.8"/>
<rect x="362.0" y="736.0" width="7.0" height="6.0" rx="0" fill="#444" stroke="#222" stroke-width="0.8"/>
<rect x="370.0" y="735.0" width="8.0" height="13.0" rx="0" fill="none" stroke="#222" stroke-width="0.9"/>
<line x1="374.0" y1="735.0" x2="374.0" y2="748.0" stroke="#222" stroke-width="0.6" />
<rect x="326.0" y="744.0" width="8.0" height="3.5" rx="0" fill="none" stroke="#222" stroke-width="0.7"/>
<rect x="320.0" y="760.8" width="8.5" height="2.8" rx="0" fill="#888" stroke="#222" stroke-width="0.6"/>
<line x1="321.5" y1="760.8" x2="321.5" y2="763.6" stroke="#fff" stroke-width="0.4" />
<line x1="323.5" y1="760.8" x2="323.5" y2="763.6" stroke="#fff" stroke-width="0.4" />
<line x1="325.5" y1="760.8" x2="325.5" y2="763.6" stroke="#fff" stroke-width="0.4" />
<line x1="327.5" y1="760.8" x2="327.5" y2="763.6" stroke="#fff" stroke-width="0.4" />
<circle cx="334.5" cy="744.5" r="1.5" fill="#111"/>
<rect x="357.0" y="738.5" width="3.5" height="4.5" rx="0" fill="#333" stroke="#222" stroke-width="0.6"/>
<rect x="355.1" y="712.1" width="33.8" height="1.9" rx="0" fill="#222" stroke="#222" stroke-width="0.6"/>
<rect x="355.1" y="714.0" width="30.3" height="6.8" rx="0" fill="none" stroke="#222" stroke-width="0.9"/>
<rect x="356.0" y="714.5" width="28.5" height="2.5" rx="0" fill="#777" stroke="#222" stroke-width="0.3"/>
<line x1="342.1" y1="714.0" x2="516.0" y2="714.0" stroke="#222" stroke-width="2" />
<line x1="342.1" y1="716.6" x2="516.0" y2="716.6" stroke="#222" stroke-width="0.9" />
<rect x="378.0" y="722.0" width="6.0" height="11.0" rx="0" fill="none" stroke="#222" stroke-width="0.8"/>
<circle cx="381.0" cy="729.0" r="1.6" fill="#333"/>
<rect x="376.0" y="733.0" width="6.0" height="13.0" rx="0" fill="none" stroke="#222" stroke-width="0.8"/>
<line x1="375.9" y1="729.0" x2="375.9" y2="764.0" stroke="#222" stroke-width="0.8" />
<line x1="380.9" y1="746.0" x2="380.9" y2="764.0" stroke="#222" stroke-width="0.8" />
<rect x="385.3" y="718.0" width="7.7" height="9.9" rx="0" fill="none" stroke="#222" stroke-width="0.8"/>
<rect x="385.3" y="727.9" width="10.6" height="19.7" rx="0" fill="none" stroke="#222" stroke-width="0.9"/>
<line x1="385.3" y1="731.0" x2="395.9" y2="731.0" stroke="#222" stroke-width="0.5" />
<line x1="385.3" y1="735.0" x2="395.9" y2="735.0" stroke="#222" stroke-width="0.5" />
<line x1="385.3" y1="739.0" x2="395.9" y2="739.0" stroke="#222" stroke-width="0.5" />
<line x1="385.3" y1="743.0" x2="395.9" y2="743.0" stroke="#222" stroke-width="0.5" />
<line x1="389.0" y1="727.9" x2="389.0" y2="747.6" stroke="#222" stroke-width="0.5" />
<rect x="366.8" y="755.0" width="15.6" height="9.0" rx="0" fill="none" stroke="#222" stroke-width="0.9"/>
<rect x="368.0" y="757.0" width="13.0" height="5.0" rx="0" fill="#777" stroke="#222" stroke-width="0.6"/>
<rect x="389.8" y="716.6" width="6.9" height="6.7" rx="0" fill="none" stroke="#222" stroke-width="0.8"/>
<rect x="407.3" y="719.5" width="5.3" height="7.6" rx="1" fill="none" stroke="#222" stroke-width="1"/>
<line x1="408.5" y1="722.0" x2="411.5" y2="725.0" stroke="#222" stroke-width="0.6" />
<line x1="410.0" y1="716.6" x2="410.0" y2="719.5" stroke="#222" stroke-width="0.6" />
<rect x="449.7" y="718.3" width="8.3" height="7.3" rx="0" fill="none" stroke="#222" stroke-width="0.9"/>
<rect x="451.0" y="716.6" width="5.5" height="2.9" rx="0" fill="none" stroke="#222" stroke-width="0.7"/>
<circle cx="453.8" cy="718.0" r="1.0" fill="#111"/>
<circle cx="440.6" cy="708.9" r="5.3" fill="none" stroke="#222" stroke-width="1"/>
<line x1="433.8" y1="708.9" x2="447.4" y2="708.9" stroke="#222" stroke-width="0.6" />
<line x1="440.6" y1="702.1" x2="440.6" y2="715.7" stroke="#222" stroke-width="0.6" />
<polyline points="472.4,716.6 472.4,721.8 494.4,721.8 494.4,716.6" fill="none" stroke="#222" stroke-width="0.9"/>
<circle cx="483.0" cy="722.0" r="4.8" fill="#444" stroke="#222" stroke-width="1"/>
<circle cx="483.0" cy="722.0" r="2.5" fill="none" stroke="#222" stroke-width="0.6"/>
<rect x="473.2" y="730.2" width="18.2" height="2.2" rx="0" fill="none" stroke="#222" stroke-width="0.9"/>
<line x1="477.0" y1="732.4" x2="477.0" y2="763.5" stroke="#222" stroke-width="1" />
<line x1="488.3" y1="732.4" x2="488.3" y2="763.5" stroke="#222" stroke-width="1" />
<line x1="483.0" y1="716.6" x2="483.0" y2="763.5" stroke="#222" stroke-width="0.6" />
<line x1="477.0" y1="721.8" x2="477.0" y2="730.2" stroke="#222" stroke-width="0.8" />
<line x1="488.3" y1="721.8" x2="488.3" y2="730.2" stroke="#222" stroke-width="0.8" />
<circle cx="483.0" cy="749.8" r="4.2" fill="#666" stroke="#222" stroke-width="1"/>
<rect x="478.5" y="752.0" width="9.0" height="8.0" rx="0" fill="none" stroke="#222" stroke-width="0.8"/>
<line x1="481.0" y1="753.0" x2="481.0" y2="760.0" stroke="#222" stroke-width="0.5" />
<line x1="485.0" y1="753.0" x2="485.0" y2="760.0" stroke="#222" stroke-width="0.5" />
<line x1="470.9" y1="763.8" x2="494.4" y2="763.8" stroke="#222" stroke-width="1.8" />
<line x1="380.0" y1="764.4" x2="516.0" y2="764.4" stroke="#222" stroke-width="1" />
<polyline points="874.5,684.0 516.8,684.0 516.8,764.2 874.5,764.2" fill="none" stroke="#222" stroke-width="1.1"/>
<path d="M 874.5,684.0 C 877.0,691.0 878.0,699.0 875.0,706.0 C 871.0,713.0 870.0,721.0 873.0,729.0 C 876.0,739.0 877.0,751.0 874.5,764.2" fill="none" stroke="#222" stroke-width="0.9"/>
<line x1="505.0" y1="714.9" x2="863.0" y2="714.9" stroke="#222" stroke-width="0.9" />
<line x1="505.0" y1="713.5" x2="516.8" y2="713.5" stroke="#222" stroke-width="0.7" />
<line x1="505.0" y1="716.3" x2="516.8" y2="716.3" stroke="#222" stroke-width="0.7" />
<line x1="523.5" y1="684.5" x2="523.5" y2="763.8" stroke="#222" stroke-width="0.9" />
<line x1="555.7" y1="684.5" x2="555.7" y2="763.8" stroke="#222" stroke-width="0.9" />
<line x1="595.0" y1="684.5" x2="595.0" y2="763.8" stroke="#222" stroke-width="0.9" />
<line x1="615.6" y1="684.5" x2="615.6" y2="763.8" stroke="#222" stroke-width="0.9" />
<line x1="656.0" y1="684.5" x2="656.0" y2="763.8" stroke="#222" stroke-width="0.9" />
<line x1="680.0" y1="684.5" x2="680.0" y2="763.8" stroke="#222" stroke-width="0.9" />
<line x1="683.0" y1="684.5" x2="683.0" y2="763.8" stroke="#222" stroke-width="0.9" />
<line x1="719.4" y1="684.5" x2="719.4" y2="763.8" stroke="#222" stroke-width="0.9" />
<line x1="759.5" y1="684.5" x2="759.5" y2="763.8" stroke="#222" stroke-width="0.9" />
<line x1="795.4" y1="684.5" x2="795.4" y2="763.8" stroke="#222" stroke-width="0.9" />
<line x1="798.4" y1="684.5" x2="798.4" y2="763.8" stroke="#222" stroke-width="0.9" />
<line x1="822.4" y1="684.5" x2="822.4" y2="763.8" stroke="#222" stroke-width="0.9" />
<line x1="863.0" y1="684.5" x2="863.0" y2="763.8" stroke="#222" stroke-width="0.9" />
<line x1="539.6" y1="679.0" x2="539.6" y2="768.0" stroke="#222" stroke-width="0.8" />
<line x1="673.0" y1="679.0" x2="673.0" y2="768.0" stroke="#222" stroke-width="0.8" />
<line x1="806.0" y1="679.0" x2="806.0" y2="768.0" stroke="#222" stroke-width="0.8" />
<circle cx="523.5" cy="685.5" r="0.9" fill="#222"/>
<circle cx="523.5" cy="714.9" r="0.9" fill="#222"/>
<circle cx="523.5" cy="763.0" r="0.9" fill="#222"/>
<circle cx="555.7" cy="685.5" r="0.9" fill="#222"/>
<circle cx="555.7" cy="714.9" r="0.9" fill="#222"/>
<circle cx="555.7" cy="763.0" r="0.9" fill="#222"/>
<circle cx="595.0" cy="685.5" r="0.9" fill="#222"/>
<circle cx="595.0" cy="714.9" r="0.9" fill="#222"/>
<circle cx="595.0" cy="763.0" r="0.9" fill="#222"/>
<circle cx="615.6" cy="685.5" r="0.9" fill="#222"/>
<circle cx="615.6" cy="714.9" r="0.9" fill="#222"/>
<circle cx="615.6" cy="763.0" r="0.9" fill="#222"/>
<circle cx="656.0" cy="685.5" r="0.9" fill="#222"/>
<circle cx="656.0" cy="714.9" r="0.9" fill="#222"/>
<circle cx="656.0" cy="763.0" r="0.9" fill="#222"/>
<circle cx="719.4" cy="685.5" r="0.9" fill="#222"/>
<circle cx="719.4" cy="714.9" r="0.9" fill="#222"/>
<circle cx="719.4" cy="763.0" r="0.9" fill="#222"/>
<circle cx="759.5" cy="685.5" r="0.9" fill="#222"/>
<circle cx="759.5" cy="714.9" r="0.9" fill="#222"/>
<circle cx="759.5" cy="763.0" r="0.9" fill="#222"/>
<circle cx="822.4" cy="685.5" r="0.9" fill="#222"/>
<circle cx="822.4" cy="714.9" r="0.9" fill="#222"/>
<circle cx="822.4" cy="763.0" r="0.9" fill="#222"/>
<circle cx="863.0" cy="685.5" r="0.9" fill="#222"/>
<circle cx="863.0" cy="714.9" r="0.9" fill="#222"/>
<circle cx="863.0" cy="763.0" r="0.9" fill="#222"/>
<circle cx="575.9" cy="743.2" r="11.4" fill="none" stroke="#222" stroke-width="1"/>
<line x1="563.0" y1="743.2" x2="588.8" y2="743.2" stroke="#222" stroke-width="0.6" />
<line x1="575.9" y1="730.3" x2="575.9" y2="756.1" stroke="#222" stroke-width="0.6" />
<circle cx="701.3" cy="743.2" r="11.4" fill="none" stroke="#222" stroke-width="1"/>
<line x1="688.4" y1="743.2" x2="714.2" y2="743.2" stroke="#222" stroke-width="0.6" />
<line x1="701.3" y1="730.3" x2="701.3" y2="756.1" stroke="#222" stroke-width="0.6" />
<circle cx="842.7" cy="743.2" r="11.4" fill="none" stroke="#222" stroke-width="1"/>
<line x1="829.8" y1="743.2" x2="855.6" y2="743.2" stroke="#222" stroke-width="0.6" />
<line x1="842.7" y1="730.3" x2="842.7" y2="756.1" stroke="#222" stroke-width="0.6" />
<circle cx="583.0" cy="684.0" r="1.0" fill="#222"/>
<circle cx="642.0" cy="684.0" r="1.0" fill="#222"/>
<line x1="83.6" y1="964.0" x2="369.6" y2="964.0" stroke="#222" stroke-width="1.1" />
<line x1="83.6" y1="977.9" x2="172.7" y2="977.9" stroke="#222" stroke-width="1.1" />
<line x1="200.5" y1="977.9" x2="369.6" y2="977.9" stroke="#222" stroke-width="1.1" />
<line x1="83.6" y1="964.0" x2="83.6" y2="977.9" stroke="#222" stroke-width="1" />
<line x1="153.4" y1="880.9" x2="153.4" y2="964.0" stroke="#222" stroke-width="1" />
<line x1="160.3" y1="880.9" x2="160.3" y2="964.0" stroke="#222" stroke-width="0.7" />
<line x1="167.6" y1="880.9" x2="167.6" y2="964.0" stroke="#222" stroke-width="1" />
<line x1="153.4" y1="880.9" x2="167.6" y2="880.9" stroke="#222" stroke-width="1.3" />
<path d="M 154.5,880.9 Q 154.5,871.0 160.3,871.0 Q 166.3,871.0 166.3,880.9 Z" fill="#333" stroke="#222" stroke-width="0.9"/>
<circle cx="160.3" cy="877.5" r="3.0" fill="none" stroke="#aaa" stroke-width="0.6"/>
<polyline points="172.7,964.0 172.7,977.9 179.7,991.4 193.5,991.4 200.5,977.9 200.5,964.0" fill="none" stroke="#222" stroke-width="1"/>
<line x1="179.7" y1="991.4" x2="179.7" y2="1156.7" stroke="#222" stroke-width="1" />
<line x1="186.6" y1="964.0" x2="186.6" y2="1156.7" stroke="#222" stroke-width="0.8" />
<line x1="193.5" y1="991.4" x2="193.5" y2="1156.7" stroke="#222" stroke-width="1" />
<line x1="173.6" y1="1156.8" x2="199.7" y2="1156.8" stroke="#222" stroke-width="1.6" />
<line x1="134.7" y1="964.0" x2="134.7" y2="1052.9" stroke="#222" stroke-width="2" />
<line x1="130.4" y1="1053.0" x2="139.4" y2="1053.0" stroke="#222" stroke-width="1.8" />
<polyline points="66.3,999.2 84.4,962.0 112.1,963.7 128.1,952.4 137.3,961.0 154.6,882.3" fill="none" stroke="#222" stroke-width="0.7"/>
<polygon points="64.6,1002.5 65.3,997.8 68.3,999.6" fill="#222" stroke="#222" stroke-width="0.6"/>
<circle cx="86.7" cy="961.1" r="2.8" fill="none" stroke="#222" stroke-width="0.8"/>
<line x1="83.9" y1="961.1" x2="89.5" y2="961.1" stroke="#222" stroke-width="0.6" />
<line x1="86.7" y1="958.3" x2="86.7" y2="963.9" stroke="#222" stroke-width="0.6" />
<circle cx="114.7" cy="961.1" r="2.8" fill="none" stroke="#222" stroke-width="0.8"/>
<line x1="111.9" y1="961.1" x2="117.5" y2="961.1" stroke="#222" stroke-width="0.6" />
<line x1="114.7" y1="958.3" x2="114.7" y2="963.9" stroke="#222" stroke-width="0.6" />
<circle cx="128.1" cy="954.7" r="2.8" fill="none" stroke="#222" stroke-width="0.8"/>
<line x1="125.3" y1="954.7" x2="130.9" y2="954.7" stroke="#222" stroke-width="0.6" />
<line x1="128.1" y1="951.9" x2="128.1" y2="957.5" stroke="#222" stroke-width="0.6" />
<circle cx="134.7" cy="961.1" r="2.8" fill="none" stroke="#222" stroke-width="0.8"/>
<line x1="131.9" y1="961.1" x2="137.5" y2="961.1" stroke="#222" stroke-width="0.6" />
<line x1="134.7" y1="958.3" x2="134.7" y2="963.9" stroke="#222" stroke-width="0.6" />
<line x1="164.5" y1="880.0" x2="164.5" y2="1044.0" stroke="#222" stroke-width="0.7" />
<rect x="152.1" y="1039.5" width="27.5" height="62.9" rx="0" fill="none" stroke="#222" stroke-width="1"/>
<circle cx="167.9" cy="1046.6" r="3.3" fill="none" stroke="#222" stroke-width="0.9"/>
<line x1="164.6" y1="1046.6" x2="171.2" y2="1046.6" stroke="#222" stroke-width="0.6" />
<line x1="167.9" y1="1043.3" x2="167.9" y2="1049.9" stroke="#222" stroke-width="0.6" />
<circle cx="164.6" cy="1055.6" r="3.3" fill="none" stroke="#222" stroke-width="0.9"/>
<line x1="161.3" y1="1055.6" x2="167.9" y2="1055.6" stroke="#222" stroke-width="0.6" />
<line x1="164.6" y1="1052.3" x2="164.6" y2="1058.9" stroke="#222" stroke-width="0.6" />
<circle cx="167.9" cy="1065.0" r="3.3" fill="none" stroke="#222" stroke-width="0.9"/>
<line x1="164.6" y1="1065.0" x2="171.2" y2="1065.0" stroke="#222" stroke-width="0.6" />
<line x1="167.9" y1="1061.7" x2="167.9" y2="1068.3" stroke="#222" stroke-width="0.6" />
<circle cx="164.6" cy="1086.8" r="2.6" fill="none" stroke="#222" stroke-width="0.9"/>
<line x1="162.0" y1="1086.8" x2="167.2" y2="1086.8" stroke="#222" stroke-width="0.6" />
<line x1="164.6" y1="1084.2" x2="164.6" y2="1089.4" stroke="#222" stroke-width="0.6" />
<circle cx="164.6" cy="1095.1" r="2.6" fill="none" stroke="#222" stroke-width="0.9"/>
<line x1="162.0" y1="1095.1" x2="167.2" y2="1095.1" stroke="#222" stroke-width="0.6" />
<line x1="164.6" y1="1092.5" x2="164.6" y2="1097.7" stroke="#222" stroke-width="0.6" />
<polyline points="164.6,1043.0 164.6,1052.0 167.9,1061.5 166.5,1084.0 164.3,1098.0 166.5,1118.0" fill="none" stroke="#222" stroke-width="0.6"/>
<circle cx="169.6" cy="1121.9" r="4.2" fill="none" stroke="#222" stroke-width="1.2"/>
<circle cx="169.6" cy="1121.9" r="2.6" fill="#333" stroke="#222" stroke-width="1.5"/>
<path d="M 179.6,1125.2 L 163.5,1125.2 Q 161.5,1125.2 161.5,1128.0 L 163.0,1132.0 Q 164.0,1133.9 166.0,1133.9 L 179.6,1133.9" fill="none" stroke="#222" stroke-width="1"/>
<line x1="169.6" y1="1121.9" x2="229.8" y2="1099.1" stroke="#222" stroke-width="0.7" />
<path d="M 267.9,1030.5 L 264.4,1030.5 Q 261.6,1030.5 261.6,1027.6 L 261.6,1016.6 Q 261.6,1013.6 264.8,1013.6 L 323.6,1013.6 L 337.5,1028.1 L 337.5,1156.6" fill="none" stroke="#222" stroke-width="1.1"/>
<rect x="264.6" y="1014.6" width="4.5" height="9.9" rx="0.0" fill="none" stroke="#222" stroke-width="0.8"/>
<rect x="265.3" y="1016.1" width="3.0" height="2.8" rx="0.0" fill="#444" stroke="#222" stroke-width="0.5"/>
<rect x="265.3" y="1020.2" width="3.0" height="2.8" rx="0.0" fill="#444" stroke="#222" stroke-width="0.5"/>
<circle cx="269.9" cy="1029.3" r="0.8" fill="#222"/>
<circle cx="279.1" cy="1029.3" r="0.8" fill="#222"/>
<circle cx="288.3" cy="1029.3" r="0.8" fill="#222"/>
<rect x="267.6" y="1030.4" width="23.7" height="24.3" rx="0.92" fill="none" stroke="#222" stroke-width="1.4"/>
<rect x="269.0" y="1031.6" width="21.2" height="21.9" rx="3.68" fill="none" stroke="#444" stroke-width="0.7"/>
<rect x="292.2" y="1030.4" width="5.0" height="24.3" rx="0.0" fill="none" stroke="#222" stroke-width="0.9"/>
<line x1="294.7" y1="1030.4" x2="294.7" y2="1054.6" stroke="#666" stroke-width="0.6" />
<circle cx="297.7" cy="1034.0" r="0.8" fill="#222"/>
<circle cx="297.7" cy="1040.0" r="0.8" fill="#222"/>
<circle cx="297.7" cy="1046.0" r="0.8" fill="#222"/>
<circle cx="297.7" cy="1052.0" r="0.8" fill="#222"/>
<circle cx="279.0" cy="1042.5" r="11.3" fill="none" stroke="#555" stroke-width="1.1"/>
<circle cx="279.0" cy="1042.5" r="10.1" fill="none" stroke="#666" stroke-width="0.7"/>
<circle cx="279.0" cy="1042.5" r="7.9" fill="none" stroke="#222" stroke-width="1.5"/>
<line x1="267.1" y1="1042.5" x2="291.1" y2="1042.5" stroke="#222" stroke-width="0.7" />
<line x1="279.0" y1="1030.8" x2="279.0" y2="1054.2" stroke="#555" stroke-width="0.7" />
<circle cx="285.7" cy="1049.2" r="0.8" fill="#222"/>
<circle cx="272.3" cy="1049.2" r="0.8" fill="#222"/>
<circle cx="272.3" cy="1035.8" r="0.8" fill="#222"/>
<circle cx="285.7" cy="1035.8" r="0.8" fill="#222"/>
<circle cx="268.8" cy="1042.5" r="0.9" fill="#222"/>
<circle cx="289.2" cy="1042.5" r="0.9" fill="#222"/>
<rect x="267.6" y="1056.8" width="23.7" height="24.3" rx="0.92" fill="none" stroke="#222" stroke-width="1.4"/>
<rect x="269.0" y="1058.0" width="21.2" height="21.9" rx="3.68" fill="none" stroke="#444" stroke-width="0.7"/>
<rect x="292.2" y="1056.8" width="5.0" height="24.3" rx="0.0" fill="none" stroke="#222" stroke-width="0.9"/>
<line x1="294.7" y1="1056.8" x2="294.7" y2="1081.0" stroke="#666" stroke-width="0.6" />
<circle cx="297.7" cy="1060.4" r="0.8" fill="#222"/>
<circle cx="297.7" cy="1066.4" r="0.8" fill="#222"/>
<circle cx="297.7" cy="1072.4" r="0.8" fill="#222"/>
<circle cx="297.7" cy="1078.4" r="0.8" fill="#222"/>
<circle cx="279.0" cy="1068.9" r="11.3" fill="none" stroke="#555" stroke-width="1.1"/>
<circle cx="279.0" cy="1068.9" r="10.1" fill="none" stroke="#666" stroke-width="0.7"/>
<circle cx="279.0" cy="1068.9" r="7.9" fill="none" stroke="#222" stroke-width="1.5"/>
<line x1="267.1" y1="1068.9" x2="291.1" y2="1068.9" stroke="#222" stroke-width="0.7" />
<line x1="279.0" y1="1057.2" x2="279.0" y2="1080.6" stroke="#555" stroke-width="0.7" />
<circle cx="285.7" cy="1075.6" r="0.8" fill="#222"/>
<circle cx="272.3" cy="1075.6" r="0.8" fill="#222"/>
<circle cx="272.3" cy="1062.2" r="0.8" fill="#222"/>
<circle cx="285.7" cy="1062.2" r="0.8" fill="#222"/>
<circle cx="268.8" cy="1068.9" r="0.9" fill="#222"/>
<circle cx="289.2" cy="1068.9" r="0.9" fill="#222"/>
<circle cx="279.0" cy="1068.9" r="3.3" fill="none" stroke="#222" stroke-width="0.9"/>
<rect x="267.6" y="1082.6" width="23.7" height="24.3" rx="0.92" fill="none" stroke="#222" stroke-width="1.4"/>
<rect x="269.0" y="1083.8" width="21.2" height="21.9" rx="3.68" fill="none" stroke="#444" stroke-width="0.7"/>
<rect x="292.2" y="1082.6" width="5.0" height="24.3" rx="0.0" fill="none" stroke="#222" stroke-width="0.9"/>
<line x1="294.7" y1="1082.6" x2="294.7" y2="1106.9" stroke="#666" stroke-width="0.6" />
<circle cx="297.7" cy="1086.3" r="0.8" fill="#222"/>
<circle cx="297.7" cy="1092.3" r="0.8" fill="#222"/>
<circle cx="297.7" cy="1098.3" r="0.8" fill="#222"/>
<circle cx="297.7" cy="1104.2" r="0.8" fill="#222"/>
<circle cx="279.0" cy="1094.8" r="11.3" fill="none" stroke="#555" stroke-width="1.1"/>
<circle cx="279.0" cy="1094.8" r="10.1" fill="none" stroke="#666" stroke-width="0.7"/>
<circle cx="279.0" cy="1094.8" r="7.9" fill="none" stroke="#222" stroke-width="1.5"/>
<line x1="267.1" y1="1094.8" x2="291.1" y2="1094.8" stroke="#222" stroke-width="0.7" />
<line x1="279.0" y1="1083.1" x2="279.0" y2="1106.4" stroke="#555" stroke-width="0.7" />
<circle cx="285.7" cy="1101.5" r="0.8" fill="#222"/>
<circle cx="272.3" cy="1101.5" r="0.8" fill="#222"/>
<circle cx="272.3" cy="1088.1" r="0.8" fill="#222"/>
<circle cx="285.7" cy="1088.1" r="0.8" fill="#222"/>
<circle cx="268.8" cy="1094.8" r="0.9" fill="#222"/>
<circle cx="289.2" cy="1094.8" r="0.9" fill="#222"/>
<polygon points="329.7,1043.1 326.7,1048.3 320.6,1048.3 317.5,1043.1 320.6,1037.8 326.7,1037.8" fill="none" stroke="#222" stroke-width="0.9"/>
<circle cx="323.6" cy="1043.1" r="5.2" fill="none" stroke="#222" stroke-width="0.6"/>
<line x1="316.6" y1="1043.1" x2="330.6" y2="1043.1" stroke="#222" stroke-width="0.6" />
<line x1="323.6" y1="1036.1" x2="323.6" y2="1050.0" stroke="#222" stroke-width="0.6" />
<polyline points="266.1,1071.4 255.2,1073.4 245.7,1081.4 245.7,1102.1" fill="none" stroke="#222" stroke-width="1"/>
<polyline points="266.1,1074.3 258.1,1075.9 250.1,1083.3 250.1,1090.6" fill="none" stroke="#222" stroke-width="0.8"/>
<circle cx="256.3" cy="1094.6" r="7.1" fill="none" stroke="#222" stroke-width="1.2"/>
<circle cx="256.3" cy="1094.6" r="5.1" fill="none" stroke="#222" stroke-width="0.8"/>
<circle cx="256.3" cy="1094.6" r="3.3" fill="#111"/>
<rect x="254.7" y="1102.8" width="11.5" height="29.5" rx="0.0" fill="none" stroke="#222" stroke-width="1"/>
<rect x="255.6" y="1105.8" width="9.7" height="6.9" rx="0.0" fill="none" stroke="#222" stroke-width="0.8"/>
<circle cx="260.2" cy="1109.2" r="2.1" fill="#222" stroke="#222" stroke-width="0.9"/>
<line x1="254.7" y1="1116.4" x2="266.2" y2="1116.4" stroke="#222" stroke-width="0.7" />
<line x1="254.7" y1="1126.5" x2="266.2" y2="1126.5" stroke="#222" stroke-width="0.7" />
<line x1="257.5" y1="1116.4" x2="257.5" y2="1126.5" stroke="#222" stroke-width="0.6" />
<line x1="263.5" y1="1116.4" x2="263.5" y2="1126.5" stroke="#222" stroke-width="0.6" />
<polygon points="266.2,1114.8 305.6,1106.6 306.7,1110.9 267.1,1119.1" fill="#fff" stroke="#222" stroke-width="1"/>
<rect x="273.8" y="1114.8" width="9.8" height="4.8" rx="0.0" fill="#1a1a1a" stroke="#222" stroke-width="1"/>
<rect x="275.4" y="1116.4" width="6.4" height="11.0" rx="0.0" fill="none" stroke="#222" stroke-width="0.6"/>
<rect x="271.6" y="1119.6" width="14.3" height="12.7" rx="0.0" fill="none" stroke="#222" stroke-width="1"/>
<line x1="279.3" y1="1132.3" x2="279.3" y2="1140.0" stroke="#222" stroke-width="1.3" />
<polyline points="293.5,1108.1 293.5,1132.3 266.2,1132.3" fill="none" stroke="#222" stroke-width="1"/>
<rect x="222.3" y="1103.9" width="8.3" height="52.5" rx="0.0" fill="none" stroke="#222" stroke-width="1.1"/>
<rect x="222.3" y="1103.9" width="31.3" height="7.6" rx="0.0" fill="none" stroke="#222" stroke-width="1"/>
<rect x="231.2" y="1119.1" width="23.0" height="25.2" rx="0.0" fill="none" stroke="#222" stroke-width="1"/>
<rect x="232.6" y="1121.0" width="19.8" height="21.2" rx="0.0" fill="none" stroke="#222" stroke-width="0.6"/>
<rect x="230.6" y="1147.1" width="37.7" height="7.1" rx="0.0" fill="none" stroke="#222" stroke-width="1"/>
<line x1="236.0" y1="1103.9" x2="236.0" y2="1144.0" stroke="#222" stroke-width="0.7" />
<circle cx="241.6" cy="1137.8" r="4.1" fill="none" stroke="#222" stroke-width="0.9"/>
<circle cx="253.1" cy="1137.8" r="4.1" fill="none" stroke="#222" stroke-width="0.9"/>
<line x1="232.2" y1="1137.8" x2="256.1" y2="1137.8" stroke="#222" stroke-width="0.6" />
<rect x="268.3" y="1142.7" width="4.4" height="10.5" rx="0.0" fill="none" stroke="#222" stroke-width="0.8"/>
<circle cx="230.9" cy="1100.0" r="4.4" fill="none" stroke="#222" stroke-width="1.6"/>
<circle cx="230.9" cy="1100.0" r="2.8" fill="none" stroke="#222" stroke-width="1.2"/>
<circle cx="230.9" cy="1100.0" r="1.1" fill="#444"/>
<line x1="222.3" y1="1156.4" x2="337.5" y2="1156.4" stroke="#222" stroke-width="1.1" />
<rect x="334.6" y="1144.6" width="2.1" height="6.0" rx="0.0" fill="none" stroke="#222" stroke-width="0.6"/>
<circle cx="229.8" cy="1099.1" r="4.5" fill="none" stroke="#222" stroke-width="1.3"/>
<circle cx="229.8" cy="1099.1" r="2.4" fill="#333" stroke="#222" stroke-width="1.2"/>
<rect x="295.6" y="971.8" width="28.6" height="3.0" rx="1.5" fill="#666" stroke="#222" stroke-width="0.9"/>
<polyline points="302.7,986.0 344.9,985.5" fill="none" stroke="#222" stroke-width="0.9"/>
<polyline points="302.7,990.5 344.9,989.5" fill="none" stroke="#222" stroke-width="0.9"/>
<polyline points="303.0,976.0 345.0,997.0" fill="none" stroke="#222" stroke-width="0.9"/>
<polyline points="305.0,979.5 342.0,1000.5" fill="none" stroke="#222" stroke-width="0.9"/>
<circle cx="302.7" cy="988.2" r="4.5" fill="#fff" stroke="#222" stroke-width="1.1"/>
<circle cx="302.7" cy="988.2" r="2.5" fill="#333" stroke="#222" stroke-width="1.2"/>
<circle cx="322.9" cy="980.4" r="4.2" fill="#fff" stroke="#222" stroke-width="1.1"/>
<circle cx="322.9" cy="980.4" r="2.3" fill="#333" stroke="#222" stroke-width="1.2"/>
<circle cx="344.9" cy="987.5" r="4.5" fill="#fff" stroke="#222" stroke-width="1.1"/>
<circle cx="344.9" cy="987.5" r="2.5" fill="#333" stroke="#222" stroke-width="1.2"/>
<circle cx="343.0" cy="998.6" r="4.3" fill="#fff" stroke="#222" stroke-width="1.1"/>
<circle cx="343.0" cy="998.6" r="2.4" fill="#333" stroke="#222" stroke-width="1.2"/>
<circle cx="304.7" cy="977.1" r="3.0" fill="#fff" stroke="#222" stroke-width="1.1"/>
<circle cx="304.7" cy="977.1" r="1.7" fill="#333" stroke="#222" stroke-width="1.2"/>
<rect x="319.0" y="975.0" width="8.0" height="10.0" rx="0" fill="none" stroke="#222" stroke-width="0.8"/>
<line x1="302.7" y1="988.2" x2="280.0" y2="1013.5" stroke="#222" stroke-width="0.7" />
<line x1="280.0" y1="1013.5" x2="266.0" y2="1028.0" stroke="#222" stroke-width="0.7" />
<line x1="348.8" y1="986.2" x2="388.0" y2="902.5" stroke="#222" stroke-width="0.7" />
<line x1="369.5" y1="846.6" x2="746.5" y2="846.6" stroke="#222" stroke-width="1.1" />
<line x1="369.5" y1="857.5" x2="746.5" y2="857.5" stroke="#222" stroke-width="1.1" />
<line x1="369.5" y1="846.6" x2="369.5" y2="1156.9" stroke="#222" stroke-width="1.0" />
<line x1="378.2" y1="846.6" x2="378.2" y2="1156.9" stroke="#222" stroke-width="1.0" />
<line x1="387.3" y1="846.6" x2="387.3" y2="1156.9" stroke="#222" stroke-width="1.0" />
<line x1="728.5" y1="846.6" x2="728.5" y2="1156.9" stroke="#222" stroke-width="1.0" />
<line x1="737.4" y1="846.6" x2="737.4" y2="1156.9" stroke="#222" stroke-width="1.0" />
<line x1="746.5" y1="846.6" x2="746.5" y2="1156.9" stroke="#222" stroke-width="1.0" />
<line x1="369.5" y1="1157.0" x2="746.5" y2="1157.0" stroke="#222" stroke-width="1.1" />
<line x1="387.3" y1="862.7" x2="464.2" y2="862.7" stroke="#222" stroke-width="0.8" />
<line x1="387.3" y1="868.0" x2="464.2" y2="868.0" stroke="#222" stroke-width="0.8" />
<line x1="387.3" y1="874.8" x2="464.2" y2="874.8" stroke="#222" stroke-width="0.8" />
<line x1="387.3" y1="880.2" x2="464.2" y2="880.2" stroke="#222" stroke-width="0.8" />
<line x1="387.3" y1="884.7" x2="464.2" y2="884.7" stroke="#222" stroke-width="0.8" />
<line x1="464.2" y1="857.5" x2="464.2" y2="887.0" stroke="#222" stroke-width="0.8" />
<rect x="420.6" y="865.8" width="43.2" height="11.3" rx="2" fill="#9c9c9c" stroke="#222" stroke-width="1"/>
<line x1="422.6" y1="869.0" x2="461.8" y2="869.0" stroke="#444" stroke-width="0.5" />
<line x1="422.6" y1="874.0" x2="461.8" y2="874.0" stroke="#444" stroke-width="0.5" />
<circle cx="441.8" cy="871.2" r="5.8" fill="#fff" stroke="#222" stroke-width="1.2"/>
<circle cx="441.8" cy="871.2" r="3.0" fill="#333" stroke="#222" stroke-width="1.2"/>
<rect x="416.0" y="869.5" width="4.6" height="3.3" rx="0" fill="#222" stroke="#222" stroke-width="0.8"/>
<line x1="387.3" y1="1129.6" x2="464.2" y2="1129.6" stroke="#222" stroke-width="0.8" />
<line x1="387.3" y1="1135.5" x2="464.2" y2="1135.5" stroke="#222" stroke-width="0.8" />
<line x1="387.3" y1="1141.3" x2="464.2" y2="1141.3" stroke="#222" stroke-width="0.8" />
<line x1="387.3" y1="1147.2" x2="464.2" y2="1147.2" stroke="#222" stroke-width="0.8" />
<line x1="387.3" y1="1152.0" x2="464.2" y2="1152.0" stroke="#222" stroke-width="0.8" />
<line x1="387.3" y1="1124.2" x2="464.2" y2="1124.2" stroke="#222" stroke-width="0.9" />
<rect x="420.4" y="1133.5" width="40.9" height="9.8" rx="2" fill="#9c9c9c" stroke="#222" stroke-width="1"/>
<line x1="422.4" y1="1136.5" x2="459.3" y2="1136.5" stroke="#444" stroke-width="0.5" />
<line x1="422.4" y1="1140.5" x2="459.3" y2="1140.5" stroke="#444" stroke-width="0.5" />
<circle cx="441.8" cy="1138.4" r="5.8" fill="#fff" stroke="#222" stroke-width="1.2"/>
<circle cx="441.8" cy="1138.4" r="3.0" fill="#333" stroke="#222" stroke-width="1.2"/>
<rect x="416.0" y="1136.8" width="4.4" height="3.2" rx="0" fill="#222" stroke="#222" stroke-width="0.8"/>
<line x1="435.8" y1="857.5" x2="435.8" y2="1156.9" stroke="#222" stroke-width="0.7" />
<line x1="464.5" y1="857.5" x2="464.5" y2="1156.9" stroke="#222" stroke-width="0.7" />
<line x1="499.3" y1="857.5" x2="499.3" y2="1156.9" stroke="#222" stroke-width="0.7" />
<line x1="518.7" y1="857.5" x2="518.7" y2="1156.9" stroke="#222" stroke-width="0.7" />
<line x1="444.8" y1="894.8" x2="444.8" y2="961.0" stroke="#222" stroke-width="0.9" />
<line x1="446.8" y1="894.8" x2="446.8" y2="961.0" stroke="#222" stroke-width="0.9" />
<line x1="480.8" y1="857.5" x2="480.8" y2="1121.0" stroke="#222" stroke-width="1.0" />
<line x1="483.7" y1="857.5" x2="483.7" y2="1121.0" stroke="#222" stroke-width="1.0" />
<line x1="482.2" y1="858" x2="482.2" y2="1120" stroke="#555" stroke-width="2" stroke-dasharray="1.5,1"/>
<rect x="479.0" y="855.5" width="7.0" height="4.0" rx="0" fill="#999" stroke="#222" stroke-width="0.7"/>
<line x1="478.0" y1="1121.0" x2="486.5" y2="1121.0" stroke="#222" stroke-width="1.4" />
<line x1="651.6" y1="862.7" x2="728.5" y2="862.7" stroke="#222" stroke-width="0.8" />
<line x1="651.6" y1="868.0" x2="728.5" y2="868.0" stroke="#222" stroke-width="0.8" />
<line x1="651.6" y1="874.8" x2="728.5" y2="874.8" stroke="#222" stroke-width="0.8" />
<line x1="651.6" y1="880.2" x2="728.5" y2="880.2" stroke="#222" stroke-width="0.8" />
<line x1="651.6" y1="884.7" x2="728.5" y2="884.7" stroke="#222" stroke-width="0.8" />
<line x1="651.6" y1="857.5" x2="651.6" y2="887.0" stroke="#222" stroke-width="0.8" />
<rect x="652.0" y="865.8" width="43.2" height="11.3" rx="2" fill="#9c9c9c" stroke="#222" stroke-width="1"/>
<line x1="654.0" y1="869.0" x2="693.2" y2="869.0" stroke="#444" stroke-width="0.5" />
<line x1="654.0" y1="874.0" x2="693.2" y2="874.0" stroke="#444" stroke-width="0.5" />
<circle cx="674.0" cy="871.2" r="5.8" fill="#fff" stroke="#222" stroke-width="1.2"/>
<circle cx="674.0" cy="871.2" r="3.0" fill="#333" stroke="#222" stroke-width="1.2"/>
<rect x="695.2" y="869.5" width="4.6" height="3.3" rx="0" fill="#222" stroke="#222" stroke-width="0.8"/>
<line x1="651.6" y1="1129.6" x2="728.5" y2="1129.6" stroke="#222" stroke-width="0.8" />
<line x1="651.6" y1="1135.5" x2="728.5" y2="1135.5" stroke="#222" stroke-width="0.8" />
<line x1="651.6" y1="1141.3" x2="728.5" y2="1141.3" stroke="#222" stroke-width="0.8" />
<line x1="651.6" y1="1147.2" x2="728.5" y2="1147.2" stroke="#222" stroke-width="0.8" />
<line x1="651.6" y1="1152.0" x2="728.5" y2="1152.0" stroke="#222" stroke-width="0.8" />
<line x1="651.6" y1="1124.2" x2="728.5" y2="1124.2" stroke="#222" stroke-width="0.9" />
<rect x="654.5" y="1133.5" width="40.9" height="9.8" rx="2" fill="#9c9c9c" stroke="#222" stroke-width="1"/>
<line x1="656.5" y1="1136.5" x2="693.4" y2="1136.5" stroke="#444" stroke-width="0.5" />
<line x1="656.5" y1="1140.5" x2="693.4" y2="1140.5" stroke="#444" stroke-width="0.5" />
<circle cx="674.0" cy="1138.4" r="5.8" fill="#fff" stroke="#222" stroke-width="1.2"/>
<circle cx="674.0" cy="1138.4" r="3.0" fill="#333" stroke="#222" stroke-width="1.2"/>
<rect x="695.4" y="1136.8" width="4.4" height="3.2" rx="0" fill="#222" stroke="#222" stroke-width="0.8"/>
<line x1="680.0" y1="857.5" x2="680.0" y2="1156.9" stroke="#222" stroke-width="0.7" />
<line x1="651.3" y1="857.5" x2="651.3" y2="1156.9" stroke="#222" stroke-width="0.7" />
<line x1="616.5" y1="857.5" x2="616.5" y2="1156.9" stroke="#222" stroke-width="0.7" />
<line x1="597.1" y1="857.5" x2="597.1" y2="1156.9" stroke="#222" stroke-width="0.7" />
<line x1="671.0" y1="894.8" x2="671.0" y2="961.0" stroke="#222" stroke-width="0.9" />
<line x1="669.0" y1="894.8" x2="669.0" y2="961.0" stroke="#222" stroke-width="0.9" />
<line x1="635.0" y1="857.5" x2="635.0" y2="1121.0" stroke="#222" stroke-width="1.0" />
<line x1="632.1" y1="857.5" x2="632.1" y2="1121.0" stroke="#222" stroke-width="1.0" />
<line x1="633.5" y1="858" x2="633.5" y2="1120" stroke="#555" stroke-width="2" stroke-dasharray="1.5,1"/>
<rect x="629.8" y="855.5" width="7.0" height="4.0" rx="0" fill="#999" stroke="#222" stroke-width="0.7"/>
<line x1="637.8" y1="1121.0" x2="629.3" y2="1121.0" stroke="#222" stroke-width="1.4" />
<line x1="483.7" y1="863.6" x2="508.2" y2="863.6" stroke="#222" stroke-width="1.0" />
<line x1="607.7" y1="863.6" x2="632.1" y2="863.6" stroke="#222" stroke-width="1.0" />
<line x1="387.3" y1="863.6" x2="480.8" y2="863.6" stroke="#222" stroke-width="0.6" />
<line x1="635.0" y1="863.6" x2="728.5" y2="863.6" stroke="#222" stroke-width="0.6" />
<line x1="360.8" y1="894.8" x2="738.0" y2="894.8" stroke="#222" stroke-width="2" />
<circle cx="360.8" cy="894.8" r="1.3" fill="#222"/>
<path d="M 738.0,894.8 Q 742.7,894.8 742.7,900.0 L 742.7,961.0" fill="none" stroke="#222" stroke-width="2"/>
<line x1="360.8" y1="929.4" x2="742.7" y2="929.4" stroke="#222" stroke-width="2" />
<circle cx="360.8" cy="929.4" r="1.3" fill="#222"/>
<line x1="368.3" y1="961.0" x2="742.7" y2="961.0" stroke="#222" stroke-width="1" />
<line x1="368.3" y1="963.5" x2="742.7" y2="963.5" stroke="#222" stroke-width="0.8" />
<line x1="368.3" y1="894.8" x2="368.3" y2="961.0" stroke="#222" stroke-width="1" />
<line x1="374.4" y1="894.8" x2="374.4" y2="961.0" stroke="#222" stroke-width="1" />
<line x1="387.3" y1="970.3" x2="464.5" y2="970.3" stroke="#222" stroke-width="0.7" />
<line x1="387.3" y1="974.0" x2="464.5" y2="974.0" stroke="#222" stroke-width="0.7" />
<line x1="651.3" y1="970.3" x2="728.5" y2="970.3" stroke="#222" stroke-width="0.7" />
<line x1="651.3" y1="974.0" x2="728.5" y2="974.0" stroke="#222" stroke-width="0.7" />
<rect x="375.2" y="964.2" width="6.0" height="12.2" rx="0" fill="none" stroke="#222" stroke-width="0.8"/>
<rect x="734.6" y="964.2" width="6.0" height="12.2" rx="0" fill="none" stroke="#222" stroke-width="0.8"/>
<line x1="484.0" y1="982.2" x2="632.0" y2="982.2" stroke="#222" stroke-width="0.8" />
<line x1="484.0" y1="990.0" x2="632.0" y2="990.0" stroke="#222" stroke-width="0.8" />
<line x1="484.0" y1="1131.0" x2="632.0" y2="1131.0" stroke="#222" stroke-width="0.9" />
<line x1="501.0" y1="1141.4" x2="616.0" y2="1141.4" stroke="#222" stroke-width="0.9" />
<line x1="455.5" y1="894.8" x2="455.5" y2="1125.0" stroke="#222" stroke-width="1.6" />
<circle cx="455.5" cy="925.0" r="27.3" fill="none" stroke="#222" stroke-width="1.0"/>
<circle cx="455.5" cy="925.0" r="15.1" fill="none" stroke="#222" stroke-width="1.8"/>
<circle cx="461.2" cy="927.4" r="5.6" fill="none" stroke="#222" stroke-width="0.7"/>
<circle cx="457.9" cy="930.7" r="5.6" fill="none" stroke="#222" stroke-width="0.7"/>
<circle cx="453.1" cy="930.7" r="5.6" fill="none" stroke="#222" stroke-width="0.7"/>
<circle cx="449.8" cy="927.4" r="5.6" fill="none" stroke="#222" stroke-width="0.7"/>
<circle cx="449.8" cy="922.6" r="5.6" fill="none" stroke="#222" stroke-width="0.7"/>
<circle cx="453.1" cy="919.3" r="5.6" fill="none" stroke="#222" stroke-width="0.7"/>
<circle cx="457.9" cy="919.3" r="5.6" fill="none" stroke="#222" stroke-width="0.7"/>
<circle cx="461.2" cy="922.6" r="5.6" fill="none" stroke="#222" stroke-width="0.7"/>
<circle cx="455.5" cy="925.0" r="4.6" fill="#fff" stroke="#222" stroke-width="1.8"/>
<circle cx="455.5" cy="925.0" r="2.2" fill="#bbb" stroke="#555" stroke-width="0.8"/>
<line x1="427.2" y1="925.0" x2="483.8" y2="925.0" stroke="#444" stroke-width="0.5" />
<circle cx="455.5" cy="985.5" r="27.3" fill="none" stroke="#222" stroke-width="1.0"/>
<circle cx="455.5" cy="985.5" r="15.1" fill="none" stroke="#222" stroke-width="1.8"/>
<circle cx="461.2" cy="987.9" r="5.6" fill="none" stroke="#222" stroke-width="0.7"/>
<circle cx="457.9" cy="991.2" r="5.6" fill="none" stroke="#222" stroke-width="0.7"/>
<circle cx="453.1" cy="991.2" r="5.6" fill="none" stroke="#222" stroke-width="0.7"/>
<circle cx="449.8" cy="987.9" r="5.6" fill="none" stroke="#222" stroke-width="0.7"/>
<circle cx="449.8" cy="983.1" r="5.6" fill="none" stroke="#222" stroke-width="0.7"/>
<circle cx="453.1" cy="979.8" r="5.6" fill="none" stroke="#222" stroke-width="0.7"/>
<circle cx="457.9" cy="979.8" r="5.6" fill="none" stroke="#222" stroke-width="0.7"/>
<circle cx="461.2" cy="983.1" r="5.6" fill="none" stroke="#222" stroke-width="0.7"/>
<circle cx="455.5" cy="985.5" r="4.6" fill="#fff" stroke="#222" stroke-width="1.8"/>
<circle cx="455.5" cy="985.5" r="2.2" fill="#bbb" stroke="#555" stroke-width="0.8"/>
<line x1="427.2" y1="985.5" x2="483.8" y2="985.5" stroke="#444" stroke-width="0.5" />
<circle cx="455.5" cy="1046.0" r="27.3" fill="none" stroke="#222" stroke-width="1.0"/>
<circle cx="455.5" cy="1046.0" r="15.1" fill="none" stroke="#222" stroke-width="1.8"/>
<circle cx="461.2" cy="1048.4" r="5.6" fill="none" stroke="#222" stroke-width="0.7"/>
<circle cx="457.9" cy="1051.7" r="5.6" fill="none" stroke="#222" stroke-width="0.7"/>
<circle cx="453.1" cy="1051.7" r="5.6" fill="none" stroke="#222" stroke-width="0.7"/>
<circle cx="449.8" cy="1048.4" r="5.6" fill="none" stroke="#222" stroke-width="0.7"/>
<circle cx="449.8" cy="1043.6" r="5.6" fill="none" stroke="#222" stroke-width="0.7"/>
<circle cx="453.1" cy="1040.3" r="5.6" fill="none" stroke="#222" stroke-width="0.7"/>
<circle cx="457.9" cy="1040.3" r="5.6" fill="none" stroke="#222" stroke-width="0.7"/>
<circle cx="461.2" cy="1043.6" r="5.6" fill="none" stroke="#222" stroke-width="0.7"/>
<circle cx="455.5" cy="1046.0" r="4.6" fill="#fff" stroke="#222" stroke-width="1.8"/>
<circle cx="455.5" cy="1046.0" r="2.2" fill="#bbb" stroke="#555" stroke-width="0.8"/>
<line x1="427.2" y1="1046.0" x2="483.8" y2="1046.0" stroke="#444" stroke-width="0.5" />
<circle cx="455.5" cy="1106.5" r="27.3" fill="none" stroke="#222" stroke-width="1.0"/>
<circle cx="455.5" cy="1106.5" r="15.1" fill="none" stroke="#222" stroke-width="1.8"/>
<circle cx="461.2" cy="1108.9" r="5.6" fill="none" stroke="#222" stroke-width="0.7"/>
<circle cx="457.9" cy="1112.2" r="5.6" fill="none" stroke="#222" stroke-width="0.7"/>
<circle cx="453.1" cy="1112.2" r="5.6" fill="none" stroke="#222" stroke-width="0.7"/>
<circle cx="449.8" cy="1108.9" r="5.6" fill="none" stroke="#222" stroke-width="0.7"/>
<circle cx="449.8" cy="1104.1" r="5.6" fill="none" stroke="#222" stroke-width="0.7"/>
<circle cx="453.1" cy="1100.8" r="5.6" fill="none" stroke="#222" stroke-width="0.7"/>
<circle cx="457.9" cy="1100.8" r="5.6" fill="none" stroke="#222" stroke-width="0.7"/>
<circle cx="461.2" cy="1104.1" r="5.6" fill="none" stroke="#222" stroke-width="0.7"/>
<circle cx="455.5" cy="1106.5" r="4.6" fill="#fff" stroke="#222" stroke-width="1.8"/>
<circle cx="455.5" cy="1106.5" r="2.2" fill="#bbb" stroke="#555" stroke-width="0.8"/>
<line x1="427.2" y1="1106.5" x2="483.8" y2="1106.5" stroke="#444" stroke-width="0.5" />
<line x1="508.2" y1="863.6" x2="508.2" y2="1125.0" stroke="#222" stroke-width="1.6" />
<circle cx="508.2" cy="863.6" r="1.6" fill="#222"/>
<circle cx="508.2" cy="894.5" r="27.3" fill="none" stroke="#222" stroke-width="1.0"/>
<circle cx="508.2" cy="894.5" r="15.1" fill="none" stroke="#222" stroke-width="1.8"/>
<circle cx="513.9" cy="896.9" r="5.6" fill="none" stroke="#222" stroke-width="0.7"/>
<circle cx="510.6" cy="900.2" r="5.6" fill="none" stroke="#222" stroke-width="0.7"/>
<circle cx="505.8" cy="900.2" r="5.6" fill="none" stroke="#222" stroke-width="0.7"/>
<circle cx="502.5" cy="896.9" r="5.6" fill="none" stroke="#222" stroke-width="0.7"/>
<circle cx="502.5" cy="892.1" r="5.6" fill="none" stroke="#222" stroke-width="0.7"/>
<circle cx="505.8" cy="888.8" r="5.6" fill="none" stroke="#222" stroke-width="0.7"/>
<circle cx="510.6" cy="888.8" r="5.6" fill="none" stroke="#222" stroke-width="0.7"/>
<circle cx="513.9" cy="892.1" r="5.6" fill="none" stroke="#222" stroke-width="0.7"/>
<circle cx="508.2" cy="894.5" r="4.6" fill="#fff" stroke="#222" stroke-width="1.8"/>
<circle cx="508.2" cy="894.5" r="2.2" fill="#bbb" stroke="#555" stroke-width="0.8"/>
<line x1="479.9" y1="894.5" x2="536.5" y2="894.5" stroke="#444" stroke-width="0.5" />
<circle cx="508.2" cy="955.2" r="27.3" fill="none" stroke="#222" stroke-width="1.0"/>
<circle cx="508.2" cy="955.2" r="15.1" fill="none" stroke="#222" stroke-width="1.8"/>
<circle cx="513.9" cy="957.6" r="5.6" fill="none" stroke="#222" stroke-width="0.7"/>
<circle cx="510.6" cy="960.9" r="5.6" fill="none" stroke="#222" stroke-width="0.7"/>
<circle cx="505.8" cy="960.9" r="5.6" fill="none" stroke="#222" stroke-width="0.7"/>
<circle cx="502.5" cy="957.6" r="5.6" fill="none" stroke="#222" stroke-width="0.7"/>
<circle cx="502.5" cy="952.8" r="5.6" fill="none" stroke="#222" stroke-width="0.7"/>
<circle cx="505.8" cy="949.5" r="5.6" fill="none" stroke="#222" stroke-width="0.7"/>
<circle cx="510.6" cy="949.5" r="5.6" fill="none" stroke="#222" stroke-width="0.7"/>
<circle cx="513.9" cy="952.8" r="5.6" fill="none" stroke="#222" stroke-width="0.7"/>
<circle cx="508.2" cy="955.2" r="4.6" fill="#fff" stroke="#222" stroke-width="1.8"/>
<circle cx="508.2" cy="955.2" r="2.2" fill="#bbb" stroke="#555" stroke-width="0.8"/>
<line x1="479.9" y1="955.2" x2="536.5" y2="955.2" stroke="#444" stroke-width="0.5" />
<circle cx="508.2" cy="1015.9" r="27.3" fill="none" stroke="#222" stroke-width="1.0"/>
<circle cx="508.2" cy="1015.9" r="15.1" fill="none" stroke="#222" stroke-width="1.8"/>
<circle cx="513.9" cy="1018.3" r="5.6" fill="none" stroke="#222" stroke-width="0.7"/>
<circle cx="510.6" cy="1021.6" r="5.6" fill="none" stroke="#222" stroke-width="0.7"/>
<circle cx="505.8" cy="1021.6" r="5.6" fill="none" stroke="#222" stroke-width="0.7"/>
<circle cx="502.5" cy="1018.3" r="5.6" fill="none" stroke="#222" stroke-width="0.7"/>
<circle cx="502.5" cy="1013.5" r="5.6" fill="none" stroke="#222" stroke-width="0.7"/>
<circle cx="505.8" cy="1010.2" r="5.6" fill="none" stroke="#222" stroke-width="0.7"/>
<circle cx="510.6" cy="1010.2" r="5.6" fill="none" stroke="#222" stroke-width="0.7"/>
<circle cx="513.9" cy="1013.5" r="5.6" fill="none" stroke="#222" stroke-width="0.7"/>
<circle cx="508.2" cy="1015.9" r="4.6" fill="#fff" stroke="#222" stroke-width="1.8"/>
<circle cx="508.2" cy="1015.9" r="2.2" fill="#bbb" stroke="#555" stroke-width="0.8"/>
<line x1="479.9" y1="1015.9" x2="536.5" y2="1015.9" stroke="#444" stroke-width="0.5" />
<circle cx="508.2" cy="1076.5" r="27.3" fill="none" stroke="#222" stroke-width="1.0"/>
<circle cx="508.2" cy="1076.5" r="15.1" fill="none" stroke="#222" stroke-width="1.8"/>
<circle cx="513.9" cy="1078.9" r="5.6" fill="none" stroke="#222" stroke-width="0.7"/>
<circle cx="510.6" cy="1082.2" r="5.6" fill="none" stroke="#222" stroke-width="0.7"/>
<circle cx="505.8" cy="1082.2" r="5.6" fill="none" stroke="#222" stroke-width="0.7"/>
<circle cx="502.5" cy="1078.9" r="5.6" fill="none" stroke="#222" stroke-width="0.7"/>
<circle cx="502.5" cy="1074.1" r="5.6" fill="none" stroke="#222" stroke-width="0.7"/>
<circle cx="505.8" cy="1070.8" r="5.6" fill="none" stroke="#222" stroke-width="0.7"/>
<circle cx="510.6" cy="1070.8" r="5.6" fill="none" stroke="#222" stroke-width="0.7"/>
<circle cx="513.9" cy="1074.1" r="5.6" fill="none" stroke="#222" stroke-width="0.7"/>
<circle cx="508.2" cy="1076.5" r="4.6" fill="#fff" stroke="#222" stroke-width="1.8"/>
<circle cx="508.2" cy="1076.5" r="2.2" fill="#bbb" stroke="#555" stroke-width="0.8"/>
<line x1="479.9" y1="1076.5" x2="536.5" y2="1076.5" stroke="#444" stroke-width="0.5" />
<line x1="607.7" y1="863.6" x2="607.7" y2="1125.0" stroke="#222" stroke-width="1.6" />
<circle cx="607.7" cy="863.6" r="1.6" fill="#222"/>
<circle cx="607.7" cy="894.5" r="27.3" fill="none" stroke="#222" stroke-width="1.0"/>
<circle cx="607.7" cy="894.5" r="15.1" fill="none" stroke="#222" stroke-width="1.8"/>
<circle cx="613.4" cy="896.9" r="5.6" fill="none" stroke="#222" stroke-width="0.7"/>
<circle cx="610.1" cy="900.2" r="5.6" fill="none" stroke="#222" stroke-width="0.7"/>
<circle cx="605.3" cy="900.2" r="5.6" fill="none" stroke="#222" stroke-width="0.7"/>
<circle cx="602.0" cy="896.9" r="5.6" fill="none" stroke="#222" stroke-width="0.7"/>
<circle cx="602.0" cy="892.1" r="5.6" fill="none" stroke="#222" stroke-width="0.7"/>
<circle cx="605.3" cy="888.8" r="5.6" fill="none" stroke="#222" stroke-width="0.7"/>
<circle cx="610.1" cy="888.8" r="5.6" fill="none" stroke="#222" stroke-width="0.7"/>
<circle cx="613.4" cy="892.1" r="5.6" fill="none" stroke="#222" stroke-width="0.7"/>
<circle cx="607.7" cy="894.5" r="4.6" fill="#fff" stroke="#222" stroke-width="1.8"/>
<circle cx="607.7" cy="894.5" r="2.2" fill="#bbb" stroke="#555" stroke-width="0.8"/>
<line x1="579.4" y1="894.5" x2="636.0" y2="894.5" stroke="#444" stroke-width="0.5" />
<circle cx="607.7" cy="955.2" r="27.3" fill="none" stroke="#222" stroke-width="1.0"/>
<circle cx="607.7" cy="955.2" r="15.1" fill="none" stroke="#222" stroke-width="1.8"/>
<circle cx="613.4" cy="957.6" r="5.6" fill="none" stroke="#222" stroke-width="0.7"/>
<circle cx="610.1" cy="960.9" r="5.6" fill="none" stroke="#222" stroke-width="0.7"/>
<circle cx="605.3" cy="960.9" r="5.6" fill="none" stroke="#222" stroke-width="0.7"/>
<circle cx="602.0" cy="957.6" r="5.6" fill="none" stroke="#222" stroke-width="0.7"/>
<circle cx="602.0" cy="952.8" r="5.6" fill="none" stroke="#222" stroke-width="0.7"/>
<circle cx="605.3" cy="949.5" r="5.6" fill="none" stroke="#222" stroke-width="0.7"/>
<circle cx="610.1" cy="949.5" r="5.6" fill="none" stroke="#222" stroke-width="0.7"/>
<circle cx="613.4" cy="952.8" r="5.6" fill="none" stroke="#222" stroke-width="0.7"/>
<circle cx="607.7" cy="955.2" r="4.6" fill="#fff" stroke="#222" stroke-width="1.8"/>
<circle cx="607.7" cy="955.2" r="2.2" fill="#bbb" stroke="#555" stroke-width="0.8"/>
<line x1="579.4" y1="955.2" x2="636.0" y2="955.2" stroke="#444" stroke-width="0.5" />
<circle cx="607.7" cy="1015.9" r="27.3" fill="none" stroke="#222" stroke-width="1.0"/>
<circle cx="607.7" cy="1015.9" r="15.1" fill="none" stroke="#222" stroke-width="1.8"/>
<circle cx="613.4" cy="1018.3" r="5.6" fill="none" stroke="#222" stroke-width="0.7"/>
<circle cx="610.1" cy="1021.6" r="5.6" fill="none" stroke="#222" stroke-width="0.7"/>
<circle cx="605.3" cy="1021.6" r="5.6" fill="none" stroke="#222" stroke-width="0.7"/>
<circle cx="602.0" cy="1018.3" r="5.6" fill="none" stroke="#222" stroke-width="0.7"/>
<circle cx="602.0" cy="1013.5" r="5.6" fill="none" stroke="#222" stroke-width="0.7"/>
<circle cx="605.3" cy="1010.2" r="5.6" fill="none" stroke="#222" stroke-width="0.7"/>
<circle cx="610.1" cy="1010.2" r="5.6" fill="none" stroke="#222" stroke-width="0.7"/>
<circle cx="613.4" cy="1013.5" r="5.6" fill="none" stroke="#222" stroke-width="0.7"/>
<circle cx="607.7" cy="1015.9" r="4.6" fill="#fff" stroke="#222" stroke-width="1.8"/>
<circle cx="607.7" cy="1015.9" r="2.2" fill="#bbb" stroke="#555" stroke-width="0.8"/>
<line x1="579.4" y1="1015.9" x2="636.0" y2="1015.9" stroke="#444" stroke-width="0.5" />
<circle cx="607.7" cy="1076.5" r="27.3" fill="none" stroke="#222" stroke-width="1.0"/>
<circle cx="607.7" cy="1076.5" r="15.1" fill="none" stroke="#222" stroke-width="1.8"/>
<circle cx="613.4" cy="1078.9" r="5.6" fill="none" stroke="#222" stroke-width="0.7"/>
<circle cx="610.1" cy="1082.2" r="5.6" fill="none" stroke="#222" stroke-width="0.7"/>
<circle cx="605.3" cy="1082.2" r="5.6" fill="none" stroke="#222" stroke-width="0.7"/>
<circle cx="602.0" cy="1078.9" r="5.6" fill="none" stroke="#222" stroke-width="0.7"/>
<circle cx="602.0" cy="1074.1" r="5.6" fill="none" stroke="#222" stroke-width="0.7"/>
<circle cx="605.3" cy="1070.8" r="5.6" fill="none" stroke="#222" stroke-width="0.7"/>
<circle cx="610.1" cy="1070.8" r="5.6" fill="none" stroke="#222" stroke-width="0.7"/>
<circle cx="613.4" cy="1074.1" r="5.6" fill="none" stroke="#222" stroke-width="0.7"/>
<circle cx="607.7" cy="1076.5" r="4.6" fill="#fff" stroke="#222" stroke-width="1.8"/>
<circle cx="607.7" cy="1076.5" r="2.2" fill="#bbb" stroke="#555" stroke-width="0.8"/>
<line x1="579.4" y1="1076.5" x2="636.0" y2="1076.5" stroke="#444" stroke-width="0.5" />
<line x1="659.9" y1="894.8" x2="659.9" y2="1125.0" stroke="#222" stroke-width="1.6" />
<circle cx="659.9" cy="925.0" r="27.3" fill="none" stroke="#222" stroke-width="1.0"/>
<circle cx="659.9" cy="925.0" r="15.1" fill="none" stroke="#222" stroke-width="1.8"/>
<circle cx="665.6" cy="927.4" r="5.6" fill="none" stroke="#222" stroke-width="0.7"/>
<circle cx="662.3" cy="930.7" r="5.6" fill="none" stroke="#222" stroke-width="0.7"/>
<circle cx="657.5" cy="930.7" r="5.6" fill="none" stroke="#222" stroke-width="0.7"/>
<circle cx="654.2" cy="927.4" r="5.6" fill="none" stroke="#222" stroke-width="0.7"/>
<circle cx="654.2" cy="922.6" r="5.6" fill="none" stroke="#222" stroke-width="0.7"/>
<circle cx="657.5" cy="919.3" r="5.6" fill="none" stroke="#222" stroke-width="0.7"/>
<circle cx="662.3" cy="919.3" r="5.6" fill="none" stroke="#222" stroke-width="0.7"/>
<circle cx="665.6" cy="922.6" r="5.6" fill="none" stroke="#222" stroke-width="0.7"/>
<circle cx="659.9" cy="925.0" r="4.6" fill="#fff" stroke="#222" stroke-width="1.8"/>
<circle cx="659.9" cy="925.0" r="2.2" fill="#bbb" stroke="#555" stroke-width="0.8"/>
<line x1="631.6" y1="925.0" x2="688.2" y2="925.0" stroke="#444" stroke-width="0.5" />
<circle cx="659.9" cy="985.5" r="27.3" fill="none" stroke="#222" stroke-width="1.0"/>
<circle cx="659.9" cy="985.5" r="15.1" fill="none" stroke="#222" stroke-width="1.8"/>
<circle cx="665.6" cy="987.9" r="5.6" fill="none" stroke="#222" stroke-width="0.7"/>
<circle cx="662.3" cy="991.2" r="5.6" fill="none" stroke="#222" stroke-width="0.7"/>
<circle cx="657.5" cy="991.2" r="5.6" fill="none" stroke="#222" stroke-width="0.7"/>
<circle cx="654.2" cy="987.9" r="5.6" fill="none" stroke="#222" stroke-width="0.7"/>
<circle cx="654.2" cy="983.1" r="5.6" fill="none" stroke="#222" stroke-width="0.7"/>
<circle cx="657.5" cy="979.8" r="5.6" fill="none" stroke="#222" stroke-width="0.7"/>
<circle cx="662.3" cy="979.8" r="5.6" fill="none" stroke="#222" stroke-width="0.7"/>
<circle cx="665.6" cy="983.1" r="5.6" fill="none" stroke="#222" stroke-width="0.7"/>
<circle cx="659.9" cy="985.5" r="4.6" fill="#fff" stroke="#222" stroke-width="1.8"/>
<circle cx="659.9" cy="985.5" r="2.2" fill="#bbb" stroke="#555" stroke-width="0.8"/>
<line x1="631.6" y1="985.5" x2="688.2" y2="985.5" stroke="#444" stroke-width="0.5" />
<circle cx="659.9" cy="1046.0" r="27.3" fill="none" stroke="#222" stroke-width="1.0"/>
<circle cx="659.9" cy="1046.0" r="15.1" fill="none" stroke="#222" stroke-width="1.8"/>
<circle cx="665.6" cy="1048.4" r="5.6" fill="none" stroke="#222" stroke-width="0.7"/>
<circle cx="662.3" cy="1051.7" r="5.6" fill="none" stroke="#222" stroke-width="0.7"/>
<circle cx="657.5" cy="1051.7" r="5.6" fill="none" stroke="#222" stroke-width="0.7"/>
<circle cx="654.2" cy="1048.4" r="5.6" fill="none" stroke="#222" stroke-width="0.7"/>
<circle cx="654.2" cy="1043.6" r="5.6" fill="none" stroke="#222" stroke-width="0.7"/>
<circle cx="657.5" cy="1040.3" r="5.6" fill="none" stroke="#222" stroke-width="0.7"/>
<circle cx="662.3" cy="1040.3" r="5.6" fill="none" stroke="#222" stroke-width="0.7"/>
<circle cx="665.6" cy="1043.6" r="5.6" fill="none" stroke="#222" stroke-width="0.7"/>
<circle cx="659.9" cy="1046.0" r="4.6" fill="#fff" stroke="#222" stroke-width="1.8"/>
<circle cx="659.9" cy="1046.0" r="2.2" fill="#bbb" stroke="#555" stroke-width="0.8"/>
<line x1="631.6" y1="1046.0" x2="688.2" y2="1046.0" stroke="#444" stroke-width="0.5" />
<circle cx="659.9" cy="1106.5" r="27.3" fill="none" stroke="#222" stroke-width="1.0"/>
<circle cx="659.9" cy="1106.5" r="15.1" fill="none" stroke="#222" stroke-width="1.8"/>
<circle cx="665.6" cy="1108.9" r="5.6" fill="none" stroke="#222" stroke-width="0.7"/>
<circle cx="662.3" cy="1112.2" r="5.6" fill="none" stroke="#222" stroke-width="0.7"/>
<circle cx="657.5" cy="1112.2" r="5.6" fill="none" stroke="#222" stroke-width="0.7"/>
<circle cx="654.2" cy="1108.9" r="5.6" fill="none" stroke="#222" stroke-width="0.7"/>
<circle cx="654.2" cy="1104.1" r="5.6" fill="none" stroke="#222" stroke-width="0.7"/>
<circle cx="657.5" cy="1100.8" r="5.6" fill="none" stroke="#222" stroke-width="0.7"/>
<circle cx="662.3" cy="1100.8" r="5.6" fill="none" stroke="#222" stroke-width="0.7"/>
<circle cx="665.6" cy="1104.1" r="5.6" fill="none" stroke="#222" stroke-width="0.7"/>
<circle cx="659.9" cy="1106.5" r="4.6" fill="#fff" stroke="#222" stroke-width="1.8"/>
<circle cx="659.9" cy="1106.5" r="2.2" fill="#bbb" stroke="#555" stroke-width="0.8"/>
<line x1="631.6" y1="1106.5" x2="688.2" y2="1106.5" stroke="#444" stroke-width="0.5" />
<rect x="484.0" y="922.5" width="21.5" height="4.0" rx="0" fill="#999" stroke="#222" stroke-width="0.5"/>
<rect x="610.3" y="922.5" width="21.5" height="4.0" rx="0" fill="#999" stroke="#222" stroke-width="0.5"/>
<rect x="484.0" y="983.0" width="21.5" height="4.0" rx="0" fill="#999" stroke="#222" stroke-width="0.5"/>
<rect x="610.3" y="983.0" width="21.5" height="4.0" rx="0" fill="#999" stroke="#222" stroke-width="0.5"/>
<rect x="484.0" y="1043.5" width="21.5" height="4.0" rx="0" fill="#999" stroke="#222" stroke-width="0.5"/>
<rect x="610.3" y="1043.5" width="21.5" height="4.0" rx="0" fill="#999" stroke="#222" stroke-width="0.5"/>
<rect x="484.0" y="1104.0" width="21.5" height="4.0" rx="0" fill="#999" stroke="#222" stroke-width="0.5"/>
<rect x="610.3" y="1104.0" width="21.5" height="4.0" rx="0" fill="#999" stroke="#222" stroke-width="0.5"/>
<rect x="458.0" y="892.0" width="22.5" height="4.0" rx="0" fill="#999" stroke="#222" stroke-width="0.5"/>
<rect x="635.3" y="892.0" width="22.2" height="4.0" rx="0" fill="#999" stroke="#222" stroke-width="0.5"/>
<rect x="458.0" y="952.7" width="22.5" height="4.0" rx="0" fill="#999" stroke="#222" stroke-width="0.5"/>
<rect x="635.3" y="952.7" width="22.2" height="4.0" rx="0" fill="#999" stroke="#222" stroke-width="0.5"/>
<rect x="458.0" y="1013.4" width="22.5" height="4.0" rx="0" fill="#999" stroke="#222" stroke-width="0.5"/>
<rect x="635.3" y="1013.4" width="22.2" height="4.0" rx="0" fill="#999" stroke="#222" stroke-width="0.5"/>
<rect x="458.0" y="1074.0" width="22.5" height="4.0" rx="0" fill="#999" stroke="#222" stroke-width="0.5"/>
<rect x="635.3" y="1074.0" width="22.2" height="4.0" rx="0" fill="#999" stroke="#222" stroke-width="0.5"/>
<circle cx="481.8" cy="1136.4" r="12.7" fill="#fff" stroke="#222" stroke-width="1.4"/>
<circle cx="486.8" cy="1136.4" r="4.2" fill="none" stroke="#333" stroke-width="0.5"/>
<circle cx="484.3" cy="1140.7" r="4.2" fill="none" stroke="#333" stroke-width="0.5"/>
<circle cx="479.3" cy="1140.7" r="4.2" fill="none" stroke="#333" stroke-width="0.5"/>
<circle cx="476.8" cy="1136.4" r="4.2" fill="none" stroke="#333" stroke-width="0.5"/>
<circle cx="479.3" cy="1132.1" r="4.2" fill="none" stroke="#333" stroke-width="0.5"/>
<circle cx="484.3" cy="1132.1" r="4.2" fill="none" stroke="#333" stroke-width="0.5"/>
<circle cx="481.8" cy="1136.4" r="3.5" fill="#555" stroke="#222" stroke-width="0.8"/>
<line x1="467.8" y1="1136.4" x2="495.8" y2="1136.4" stroke="#222" stroke-width="0.5" />
<circle cx="634.0" cy="1136.4" r="12.7" fill="#fff" stroke="#222" stroke-width="1.4"/>
<circle cx="639.0" cy="1136.4" r="4.2" fill="none" stroke="#333" stroke-width="0.5"/>
<circle cx="636.5" cy="1140.7" r="4.2" fill="none" stroke="#333" stroke-width="0.5"/>
<circle cx="631.5" cy="1140.7" r="4.2" fill="none" stroke="#333" stroke-width="0.5"/>
<circle cx="629.0" cy="1136.4" r="4.2" fill="none" stroke="#333" stroke-width="0.5"/>
<circle cx="631.5" cy="1132.1" r="4.2" fill="none" stroke="#333" stroke-width="0.5"/>
<circle cx="636.5" cy="1132.1" r="4.2" fill="none" stroke="#333" stroke-width="0.5"/>
<circle cx="634.0" cy="1136.4" r="3.5" fill="#555" stroke="#222" stroke-width="0.8"/>
<line x1="620.0" y1="1136.4" x2="648.0" y2="1136.4" stroke="#222" stroke-width="0.5" />
<line x1="455.5" y1="1156.0" x2="508.0" y2="1156.0" stroke="#222" stroke-width="1.4" />
<line x1="607.7" y1="1156.0" x2="660.0" y2="1156.0" stroke="#222" stroke-width="1.4" />
<circle cx="391.0" cy="898.3" r="5.5" fill="none" stroke="#222" stroke-width="1.3"/>
<circle cx="391.0" cy="898.3" r="3.0" fill="#333" stroke="#222" stroke-width="1.3"/>
<circle cx="725.1" cy="906.2" r="4.5" fill="none" stroke="#222" stroke-width="1.3"/>
<circle cx="725.1" cy="906.2" r="2.4" fill="#333" stroke="#222" stroke-width="1.2"/>
<line x1="391.0" y1="893.0" x2="499.4" y2="868.8" stroke="#222" stroke-width="0.7" />
<line x1="608.8" y1="865.0" x2="725.0" y2="906.2" stroke="#222" stroke-width="0.7" />
<line x1="725.0" y1="906.2" x2="752.0" y2="958.0" stroke="#222" stroke-width="0.7" />
<line x1="436.0" y1="876.0" x2="480.0" y2="869.0" stroke="#222" stroke-width="0.5" />
<line x1="640.0" y1="869.0" x2="680.0" y2="876.0" stroke="#222" stroke-width="0.5" />
<circle cx="558.0" cy="1096.4" r="4.3" fill="none" stroke="#222" stroke-width="0.9"/>
<line x1="553.7" y1="1096.4" x2="562.3" y2="1096.4" stroke="#222" stroke-width="0.6" />
<line x1="558.0" y1="1092.1" x2="558.0" y2="1100.7" stroke="#222" stroke-width="0.6" />
<line x1="555.0" y1="1093.4" x2="561.0" y2="1099.4" stroke="#222" stroke-width="0.6" />
<line x1="555.0" y1="1099.4" x2="561.0" y2="1093.4" stroke="#222" stroke-width="0.6" />
<circle cx="557.1" cy="1113.7" r="4.3" fill="none" stroke="#222" stroke-width="0.9"/>
<line x1="552.8" y1="1113.7" x2="561.4" y2="1113.7" stroke="#222" stroke-width="0.6" />
<line x1="557.1" y1="1109.4" x2="557.1" y2="1118.0" stroke="#222" stroke-width="0.6" />
<line x1="554.1" y1="1110.7" x2="560.1" y2="1116.7" stroke="#222" stroke-width="0.6" />
<line x1="554.1" y1="1116.7" x2="560.1" y2="1110.7" stroke="#222" stroke-width="0.6" />
<rect x="550.2" y="1102.4" width="26.0" height="4.4" rx="0" fill="#333" stroke="#222" stroke-width="0.9"/>
<rect x="576.2" y="1099.0" width="10.4" height="32.0" rx="0" fill="none" stroke="#222" stroke-width="0.9"/>
<circle cx="573.6" cy="1123.2" r="4.0" fill="#999" stroke="#222" stroke-width="1.1"/>
<rect x="564.0" y="1112.0" width="4.4" height="20.7" rx="0" fill="#888" stroke="#222" stroke-width="0.9"/>
<circle cx="541.6" cy="1127.5" r="4.5" fill="#777" stroke="#222" stroke-width="1.2"/>
<line x1="541.6" y1="1123.0" x2="552.0" y2="1105.0" stroke="#222" stroke-width="0.7" />
<line x1="500.0" y1="1130.1" x2="616.0" y2="1130.1" stroke="#222" stroke-width="0.7" />
<path d="M 730.0,894.0 L 737.0,894.0 Q 743.0,894.0 743.0,900.0 L 743.0,950.6" fill="none" stroke="#222" stroke-width="1.2"/>
<path d="M 751.2,950.6 L 751.2,903.5 Q 751.2,894.6 759.5,894.6 Q 767.7,894.6 767.7,903.5 L 767.7,927.0 L 773.6,950.6" fill="none" stroke="#222" stroke-width="1.1"/>
<line x1="759.5" y1="896.0" x2="759.5" y2="950.6" stroke="#222" stroke-width="0.7" />
<line x1="746.5" y1="949.9" x2="875.6" y2="949.9" stroke="#222" stroke-width="1.1" />
<line x1="746.5" y1="964.0" x2="866.0" y2="964.0" stroke="#222" stroke-width="1.1" />
<line x1="746.5" y1="957.5" x2="755.0" y2="957.5" stroke="#222" stroke-width="0.7" />
<rect x="737.0" y="960.0" width="8.0" height="12.0" rx="0" fill="none" stroke="#222" stroke-width="0.8"/>
<polyline points="785.3,949.9 785.3,964.0 779.5,977.7 765.2,977.7" fill="none" stroke="#222" stroke-width="1"/>
<line x1="765.2" y1="964.0" x2="765.2" y2="1156.7" stroke="#222" stroke-width="1" />
<line x1="772.3" y1="964.0" x2="772.3" y2="1156.7" stroke="#222" stroke-width="0.8" />
<line x1="779.5" y1="977.7" x2="779.5" y2="1156.7" stroke="#222" stroke-width="1" />
<line x1="758.0" y1="1156.8" x2="785.0" y2="1156.8" stroke="#222" stroke-width="1.8" />
<line x1="749.0" y1="964.0" x2="765.2" y2="977.7" stroke="#222" stroke-width="0.7" />
<rect x="790.0" y="941.2" width="26.0" height="16.5" rx="0" fill="none" stroke="#222" stroke-width="1"/>
<line x1="790.0" y1="946.0" x2="816.0" y2="946.0" stroke="#222" stroke-width="0.6" />
<line x1="803.0" y1="941.2" x2="803.0" y2="957.7" stroke="#222" stroke-width="0.6" />
<circle cx="794.0" cy="944.0" r="0.8" fill="#222"/>
<circle cx="812.0" cy="944.0" r="0.8" fill="#222"/>
<circle cx="794.0" cy="955.0" r="0.8" fill="#222"/>
<circle cx="812.0" cy="955.0" r="0.8" fill="#222"/>
<circle cx="803.0" cy="933.0" r="8.2" fill="none" stroke="#222" stroke-width="1.2"/>
<circle cx="803.0" cy="933.0" r="5.0" fill="none" stroke="#222" stroke-width="1"/>
<circle cx="803.0" cy="933.0" r="2.5" fill="#333" stroke="#222" stroke-width="1"/>
<rect x="795.0" y="939.0" width="16.0" height="2.2" rx="0" fill="#444" stroke="#222" stroke-width="0.8"/>
<circle cx="869.0" cy="946.0" r="7.5" fill="none" stroke="#222" stroke-width="1.2"/>
<circle cx="869.0" cy="946.0" r="4.5" fill="#444" stroke="#222" stroke-width="1"/>
<rect x="866.5" y="943.5" width="5.0" height="5.0" rx="0" fill="#111" stroke="#222" stroke-width="0.5"/>
<line x1="811.2" y1="931.5" x2="861.2" y2="942.1" stroke="#222" stroke-width="0.8" />
<line x1="812.7" y1="938.3" x2="859.7" y2="947.4" stroke="#222" stroke-width="0.8" />
<line x1="863.0" y1="950.2" x2="876.0" y2="950.2" stroke="#222" stroke-width="0.8" />
<circle cx="813.6" cy="966.0" r="14.0" fill="none" stroke="#222" stroke-width="0.8"/>
<rect x="811.0" y="958.0" width="4.5" height="17.0" rx="0" fill="#fff" stroke="#222" stroke-width="0.9"/>
<circle cx="813.0" cy="962.0" r="2.5" fill="#111"/>
<circle cx="813.0" cy="972.0" r="2.0" fill="none" stroke="#222" stroke-width="0.8"/>
<polygon points="812.0,960.5 867.0,964.5 867.0,967.0 812.0,963.5" fill="#555" stroke="#222" stroke-width="0.9"/>
<line x1="800.0" y1="962.0" x2="826.0" y2="962.0" stroke="#222" stroke-width="0.7" />
<line x1="780.0" y1="1023.0" x2="843.0" y2="966.0" stroke="#222" stroke-width="1" />
<line x1="780.0" y1="1028.3" x2="849.0" y2="966.0" stroke="#222" stroke-width="1" />
<line x1="780.0" y1="1015.3" x2="863.9" y2="943.9" stroke="#222" stroke-width="0.7" />
<line x1="779.4" y1="1026.0" x2="805.0" y2="1156.7" stroke="#222" stroke-width="1" />
<line x1="786.0" y1="1026.0" x2="812.0" y2="1156.7" stroke="#222" stroke-width="1" />
<line x1="783.2" y1="1045.6" x2="789.9" y2="1045.6" stroke="#222" stroke-width="0.8" />
<line x1="787.1" y1="1065.2" x2="793.8" y2="1065.2" stroke="#222" stroke-width="0.8" />
<line x1="790.9" y1="1084.8" x2="797.7" y2="1084.8" stroke="#222" stroke-width="0.8" />
<line x1="794.8" y1="1104.4" x2="801.6" y2="1104.4" stroke="#222" stroke-width="0.8" />
<line x1="798.6" y1="1124.0" x2="805.5" y2="1124.0" stroke="#222" stroke-width="0.8" />
<line x1="802.4" y1="1143.6" x2="809.4" y2="1143.6" stroke="#222" stroke-width="0.8" />
<path d="M 779.5,977.7 L 797.7,1036.0 Q 799.0,1042.0 794.0,1045.0 L 780.8,1053.0" fill="none" stroke="#222" stroke-width="1.2"/>
<line x1="783.0" y1="983.0" x2="799.5" y2="1036.0" stroke="#222" stroke-width="0.8" />
<circle cx="782.7" cy="1005.0" r="4.5" fill="none" stroke="#222" stroke-width="1.1"/>
<circle cx="782.7" cy="1005.0" r="2.5" fill="#444" stroke="#222" stroke-width="1"/>
<line x1="743.0" y1="905.0" x2="764.0" y2="976.0" stroke="#222" stroke-width="0.8" />
<line x1="760.0" y1="945.0" x2="780.0" y2="1005.0" stroke="#222" stroke-width="0.7" />
<polygon points="866.5,952.0 865.4,1011.9 872.5,1011.9 872.0,952.0" fill="none" stroke="#222" stroke-width="1"/>
<line x1="865.6" y1="988.0" x2="872.3" y2="985.0" stroke="#222" stroke-width="1.6" />
<line x1="865.6" y1="994.0" x2="872.3" y2="991.0" stroke="#222" stroke-width="1.6" />
<line x1="865.6" y1="1000.0" x2="872.3" y2="997.0" stroke="#222" stroke-width="1.6" />
<line x1="865.6" y1="1006.0" x2="872.3" y2="1003.0" stroke="#222" stroke-width="1.6" />
<rect x="865.4" y="995.0" width="7.1" height="16.9" rx="0" fill="none" stroke="#222" stroke-width="0.6"/>
<line x1="869.0" y1="952.0" x2="869.0" y2="988.0" stroke="#222" stroke-width="0.6" />
<path d="M 869.0,1012.0 C 866.0,1018.0 865.0,1022.0 868.0,1028.0 C 870.0,1034.0 868.0,1040.0 866.0,1044.8" fill="none" stroke="#222" stroke-width="0.8"/>
<line x1="866.0" y1="1050.0" x2="866.0" y2="1055.0" stroke="#222" stroke-width="0.6" stroke-dasharray="1.5,1.5"/>
<polygon points="864.8,1055.5 867.2,1055.5 866.0,1060.0" fill="#222" stroke="#222" stroke-width="0.7"/>
</svg></body></html>
